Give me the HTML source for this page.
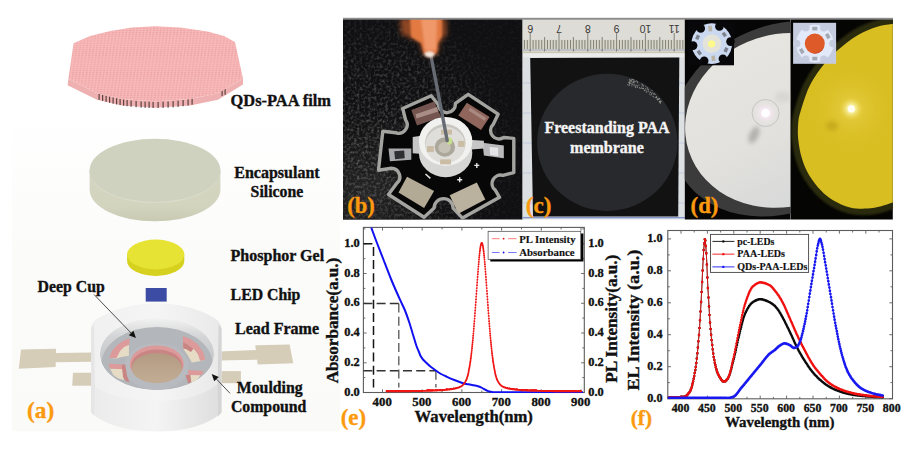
<!DOCTYPE html><html><head><meta charset="utf-8"><title>figure</title>
<style>html,body{margin:0;padding:0;background:#fff;}svg{display:block}text{font-family:"Liberation Serif",serif;font-weight:bold}</style></head><body>
<svg width="917" height="457" viewBox="0 0 917 457">
<defs>
<pattern id="hc" width="3.4" height="2.1" patternUnits="userSpaceOnUse" patternTransform="skewX(-8)"><rect width="3.4" height="2.1" fill="#f8b8b8"/><ellipse cx="1.7" cy="1.05" rx="1.0" ry="0.6" fill="#eaa2a4"/></pattern>
<linearGradient id="bodyside" x1="0" x2="1" y1="0" y2="0"><stop offset="0" stop-color="#ebebeb"/><stop offset="0.5" stop-color="#f4f4f4"/><stop offset="1" stop-color="#dedede"/></linearGradient>
<linearGradient id="wall" x1="0" x2="0" y1="0" y2="1"><stop offset="0" stop-color="#f2f2f2"/><stop offset="0.25" stop-color="#d4d5d6"/><stop offset="1" stop-color="#b4b6ba"/></linearGradient>
<linearGradient id="whitedisc" x1="0" x2="0.2" y1="0" y2="1"><stop offset="0" stop-color="#e7e6e1"/><stop offset="0.6" stop-color="#e2e1dd"/><stop offset="1" stop-color="#d8d9d9"/></linearGradient>
<radialGradient id="glowW" cx="0.5" cy="0.5" r="0.5"><stop offset="0" stop-color="#ffffff"/><stop offset="0.35" stop-color="#f6e8f2"/><stop offset="1" stop-color="#e4e2e0" stop-opacity="0"/></radialGradient>
<radialGradient id="glowY" cx="0.5" cy="0.5" r="0.5"><stop offset="0" stop-color="#ffffff"/><stop offset="0.3" stop-color="#f8f0a0"/><stop offset="1" stop-color="#e8c82a" stop-opacity="0"/></radialGradient>
<clipPath id="clipB"><rect x="343" y="18" width="179.6" height="201.4"/></clipPath><radialGradient id="bgB" gradientUnits="userSpaceOnUse" cx="365" cy="195" r="110"><stop offset="0" stop-color="#262626"/><stop offset="0.5" stop-color="#1a1a1a" stop-opacity="0.7"/><stop offset="1" stop-color="#101012" stop-opacity="0"/></radialGradient>
<clipPath id="clipC"><rect x="522.6" y="18" width="162.2" height="201.4"/></clipPath>
<clipPath id="clipDL"><rect x="684.8" y="18" width="105.7" height="201.4"/></clipPath>
<clipPath id="clipDR"><rect x="790.5" y="18" width="102.3" height="201.4"/></clipPath>
<clipPath id="clipIR"><rect x="793.1" y="22.8" width="43" height="41"/></clipPath><clipPath id="cup"><ellipse cx="157" cy="354" rx="57" ry="36"/></clipPath>
<clipPath id="clipE"><rect x="363.4" y="227.4" width="221" height="165.6"/></clipPath>
<clipPath id="clipF"><rect x="667.3" y="230.5" width="225" height="168.5"/></clipPath>
<filter id="blur1" x="-20%" y="-20%" width="140%" height="140%"><feGaussianBlur stdDeviation="1.3"/></filter><filter id="blur3" x="-30%" y="-30%" width="160%" height="160%"><feGaussianBlur stdDeviation="2.5"/></filter><filter id="blur2" x="-50%" y="-50%" width="200%" height="200%"><feGaussianBlur stdDeviation="2.2"/></filter>
<linearGradient id="bgA" x1="0" x2="0" y1="0" y2="1"><stop offset="0" stop-color="#ffffff"/><stop offset="0.45" stop-color="#fbfbfa"/><stop offset="1" stop-color="#fafaf9"/></linearGradient>
<linearGradient id="silside" x1="0" x2="0" y1="0" y2="1"><stop offset="0" stop-color="#d4d6c1"/><stop offset="0.7" stop-color="#d2d4be"/><stop offset="1" stop-color="#c8cab2"/></linearGradient>
<radialGradient id="ylight" cx="0.5" cy="0.5" r="0.5"><stop offset="0" stop-color="#e8d048" stop-opacity="0.9"/><stop offset="1" stop-color="#d9be22" stop-opacity="0"/></radialGradient>
<linearGradient id="brown" x1="0" x2="0" y1="0" y2="1"><stop offset="0" stop-color="#b39b82"/><stop offset="1" stop-color="#c2ad94"/></linearGradient>
<linearGradient id="topface" x1="0" x2="1" y1="0" y2="0"><stop offset="0" stop-color="#f0f0f0"/><stop offset="0.5" stop-color="#f5f5f5"/><stop offset="1" stop-color="#e9e9e9"/></linearGradient>
<filter id="noise" x="0" y="0" width="100%" height="100%"><feTurbulence type="fractalNoise" baseFrequency="0.35" numOctaves="2" seed="4"/><feColorMatrix type="matrix" values="0 0 0 0 0.2  0 0 0 0 0.2  0 0 0 0 0.2  2.2 0 0 0 -0.95"/></filter>
<radialGradient id="mB" gradientUnits="userSpaceOnUse" cx="370" cy="150" r="150"><stop offset="0" stop-color="#fff"/><stop offset="0.6" stop-color="#999"/><stop offset="1" stop-color="#222"/></radialGradient><mask id="maskB"><rect x="343" y="18" width="180" height="202" fill="url(#mB)"/></mask>
</defs>
<rect width="917" height="457" fill="#ffffff"/>
<rect x="12" y="110" width="328" height="321.3" fill="url(#bgA)"/>
<polygon points="68.4,78.7 97.0,93.2 122.0,99.0 155.0,101.5 190.0,99.0 218.0,93.2 243.0,78.7 243.0,84.5 218.0,99.7 190.0,105.5 155.0,107.8 122.0,105.5 97.0,99.7 67.6,85.3" fill="#eeb0b0"/>
<rect x="98.5" y="93.7" width="1.2" height="6.2" fill="#5e4242"/><rect x="102.0" y="94.7" width="1.2" height="6.2" fill="#5e4242"/><rect x="105.5" y="95.7" width="1.2" height="6.2" fill="#5e4242"/><rect x="109.0" y="96.6" width="1.2" height="6.2" fill="#5e4242"/><rect x="112.5" y="97.5" width="1.2" height="6.2" fill="#5e4242"/><rect x="116.0" y="98.2" width="1.2" height="6.2" fill="#5e4242"/><rect x="119.5" y="98.9" width="1.2" height="6.2" fill="#5e4242"/><rect x="123.0" y="99.5" width="1.2" height="6.2" fill="#5e4242"/><rect x="126.5" y="100.0" width="1.2" height="6.2" fill="#5e4242"/><rect x="130.5" y="100.5" width="1.2" height="6.2" fill="#5e4242"/><rect x="135.5" y="101.0" width="1.2" height="6.2" fill="#5e4242"/><rect x="140.5" y="101.4" width="1.2" height="6.2" fill="#5e4242"/><rect x="144.5" y="101.6" width="1.2" height="6.2" fill="#5e4242"/><rect x="148.5" y="101.7" width="1.2" height="6.2" fill="#5e4242"/><rect x="152.5" y="101.8" width="1.2" height="6.2" fill="#5e4242"/><rect x="157.5" y="101.8" width="1.2" height="6.2" fill="#5e4242"/><rect x="162.5" y="101.7" width="1.2" height="6.2" fill="#5e4242"/><rect x="167.5" y="101.5" width="1.2" height="6.2" fill="#5e4242"/><rect x="172.5" y="101.1" width="1.2" height="6.2" fill="#5e4242"/><rect x="177.5" y="100.7" width="1.2" height="6.2" fill="#5e4242"/><rect x="182.5" y="100.0" width="1.2" height="6.2" fill="#5e4242"/><rect x="187.5" y="99.3" width="1.2" height="6.2" fill="#5e4242"/><rect x="191.5" y="98.5" width="1.2" height="6.2" fill="#5e4242"/><rect x="221.5" y="89.7" width="1.2" height="6.2" fill="#5e4242"/><rect x="224.5" y="88.5" width="1.2" height="6.2" fill="#5e4242"/>
<polygon points="73.6,43.3 90.0,36.0 110.4,31.0 132.0,27.5 155.0,26.2 180.0,27.5 207.5,31.5 224.0,36.0 235.0,42.0 243.0,78.7 218.0,93.2 190.0,99.0 155.0,101.5 122.0,99.0 97.0,93.2 68.4,78.7" fill="url(#hc)"/>
<path d="M89.6,170.6 L89.6,189.6 A65.4,31.7 0 0 0 220.4,189.6 L220.4,170.6 Z" fill="url(#silside)"/>
<ellipse cx="155" cy="171.2" rx="65.4" ry="31.9" fill="#dbddcc"/>
<ellipse cx="155" cy="170.4" rx="65.4" ry="31.6" fill="#d0d2c0"/>
<path d="M127.1,254.5 L127.1,261 A28.6,15 0 0 0 184.3,261 L184.3,254.5 Z" fill="#d6d11e"/>
<ellipse cx="155.7" cy="254.5" rx="28.6" ry="15" fill="#e7e334"/>
<rect x="145.7" y="288" width="21" height="13.6" fill="#3c4ba3"/>
<polygon points="21,349.6 56,348.8 55.6,367.1 18.8,368.7" fill="#d6cdb9"/>
<polygon points="55,353 93,352.5 93,361.7 55,362.2" fill="#d6cdb9"/>
<polygon points="73,372.8 92,372.8 92,385.7 72.2,385.7" fill="#d6cdb9"/>
<polygon points="255.3,345.2 289.6,344.6 293.3,363.3 257.7,364.5" fill="#d6cdb9"/>
<polygon points="219,351.4 257,350 257,359.8 219,360.4" fill="#d6cdb9"/>
<rect x="219" y="371.1" width="21.9" height="12.1" fill="#d6cdb9"/>
<path d="M91,330 Q91,322 98.8,318 Q125,303.5 157,303.5 Q189,303.5 213.8,318 Q221.4,322 221.4,330 L221.4,413 Q200,431.4 157,431.4 Q113,431.4 91,413 Z" fill="url(#bodyside)"/>
<path d="M91,330 Q91,322 98.8,318 Q125,303.5 157,303.5 Q189,303.5 213.8,318 Q221.4,322 221.4,330 L221.4,381 Q200,401 157,401 Q113,401 91,384 Z" fill="url(#topface)"/>
<polygon points="218.6,324.5 221.5,328 221.5,412 218.2,416.5 217.6,386" fill="#d5d5d5"/>
<polygon points="94,324.5 91,328 91,412 94.2,416 95,386" fill="#e6e6e6"/>
<g clip-path="url(#cup)">
<ellipse cx="157" cy="354" rx="57" ry="36" fill="url(#wall)"/>
<ellipse cx="157" cy="364" rx="55.5" ry="37" fill="#b3b6ba"/>
<ellipse cx="156.4" cy="366.5" rx="32.3" ry="23.5" fill="#b7babf"/>
<polygon points="110.3,358.0 112.6,351.8 117.2,346.1 123.0,341.9 128.9,339.2 128.9,355.7 121.8,357.1 116.1,358.5" fill="#e6dcc6"/>
<polygon points="109.2,358.0 111.9,351.1 117.2,345.1 123.0,341.0 129.4,338.3 129.4,344.7 124.1,347.0 120.2,350.7 116.5,358.0" fill="#dc9a9a"/>
<polygon points="110.1,368.6 122.3,369.0 123.9,380.0 117.9,378.2 113.3,375.0" fill="#e6dcc6"/>
<polygon points="108.7,363.7 122.3,364.4 122.3,369.2 109.6,368.6" fill="#dc9a9a"/>
<polygon points="121.8,364.4 125.2,364.4 127.1,375.9 129.4,382.3 125.7,381.0 123.0,377.1" fill="#c98484"/>
<polygon points="183.1,336.9 190.0,339.6 197.5,345.1 202.8,353.0 205.1,359.4 199.2,361.2 191.8,362.6 188.1,355.7 183.1,348.4" fill="#e6dcc6"/>
<polygon points="182.6,336.0 190.0,338.7 197.8,344.2 203.3,352.5 205.6,359.4 200.1,360.8 197.8,353.9 193.6,348.8 188.1,344.7 183.1,342.4" fill="#dc9a9a"/>
<polygon points="183.1,341.9 188.1,344.7 193.6,348.8 190.9,352.0 186.3,349.3 183.1,348.4" fill="#c98484"/>
<polygon points="190.0,375.0 200.5,375.0 196.4,381.0 190.9,382.8" fill="#e6dcc6"/>
<polygon points="188.1,369.9 203.7,370.9 201.4,375.2 188.1,375.0" fill="#dc9a9a"/>
<polygon points="185.4,375.0 190.4,375.0 191.3,382.3 188.1,383.2" fill="#c98484"/>
<ellipse cx="156.8" cy="364" rx="27" ry="18.6" fill="#dc9a9a"/>
<ellipse cx="156.8" cy="366" rx="25.6" ry="16.6" fill="#c98484"/>
<ellipse cx="156.8" cy="368.2" rx="25.1" ry="15" fill="url(#brown)"/>
</g>
<line x1="94" y1="294.5" x2="131.1" y2="333.0" stroke="#222" stroke-width="0.8"/><polygon points="136,338 128.8,335.2 133.4,330.7" fill="#111"/>
<line x1="230" y1="393.3" x2="216.5" y2="379.1" stroke="#222" stroke-width="0.8"/><polygon points="211.7,374 218.8,376.9 214.2,381.3" fill="#111"/>
<text x="230.6" y="105.6" font-size="16.4" text-anchor="start" fill="#111"  stroke="#111" stroke-width="0.35">QDs-PAA film</text>
<text x="234.3" y="178.2" font-size="16" text-anchor="start" fill="#111"  stroke="#111" stroke-width="0.35">Encapsulant</text>
<text x="250.6" y="196.6" font-size="15.8" text-anchor="start" fill="#111"  stroke="#111" stroke-width="0.35">Silicone</text>
<text x="230.6" y="260.6" font-size="16" text-anchor="start" fill="#111"  stroke="#111" stroke-width="0.35">Phosphor Gel</text>
<text x="230.6" y="299.9" font-size="15.8" text-anchor="start" fill="#111"  stroke="#111" stroke-width="0.35">LED Chip</text>
<text x="235" y="334" font-size="16" text-anchor="start" fill="#111"  stroke="#111" stroke-width="0.35">Lead Frame</text>
<text x="236.8" y="392.5" font-size="15.8" text-anchor="start" fill="#111"  stroke="#111" stroke-width="0.35">Moulding</text>
<text x="230.9" y="411.6" font-size="15.8" text-anchor="start" fill="#111"  stroke="#111" stroke-width="0.35">Compound</text>
<text x="37.6" y="292" font-size="15.8" text-anchor="start" fill="#111"  stroke="#111" stroke-width="0.35">Deep Cup</text>
<text x="27" y="417.8" font-size="22.3" textLength="27.2" lengthAdjust="spacingAndGlyphs" fill="#fb9a0e" stroke="#fb9a0e" stroke-width="0.35">(a)</text><g clip-path="url(#clipB)">
<rect x="343" y="18" width="180" height="202" fill="#101012"/>
<rect x="343" y="18" width="180" height="202" fill="url(#bgB)"/>
<rect x="343" y="18" width="180" height="202" filter="url(#noise)" opacity="0.75" mask="url(#maskB)"/>
<path d="M402.7,108.5 L431.2,95.7 L438.3,104.8 A8.5,8.5 0 0 0 455.4,103.4 L468.2,94.3 L498.1,114.2 L493.3,124.2 A8.5,8.5 0 0 0 503.8,137.5 L513.8,138.4 L513.8,172.6 L503.0,175.4 A8.5,8.5 0 0 0 495.3,190.2 L499.5,197.3 L462.5,218.1 L453.1,208.1 A9.4,9.4 0 0 0 434.1,208.1 L424.1,217.3 L388.5,194.5 L397.0,183.1 A8.5,8.5 0 0 0 391.4,168.3 L378.5,170.3 L382.8,131.3 L395.6,132.7 A8.5,8.5 0 0 0 405.6,119.9 Z" fill="#070708" stroke="#a3a3a0" stroke-width="3.4" stroke-linejoin="round"/>
<polygon points="411.3,109.9 434.1,101.4 441.2,117.0 417.0,125.6" fill="#74544f" />
<polygon points="415.6,114.2 436.9,107.1 438.3,111.4 416.4,118.5" fill="#a88c86" />
<polygon points="466.8,102.8 489.6,117.0 481.0,129.9 458.3,115.6" fill="#90665c" />
<polygon points="470.2,107.7 486.2,117.9 484.4,120.7 468.5,110.5" fill="#a98a82" />
<polygon points="482.5,142.7 503.8,145.5 503.8,158.3 483.9,155.5" fill="#b9b9bb" />
<polygon points="388.5,148.4 411.3,148.4 411.3,159.8 389.9,161.2" fill="#a9aaac" />
<polygon points="394.2,151.2 404.2,150.4 404.7,158.3 395.1,159.2" fill="#303034" />
<polygon points="489.6,146.9 498.1,147.8 498.1,156.0 490.1,154.9" fill="#e4e4e6" />
<polygon points="407.0,176.8 434.1,191.1 424.1,208.1 398.5,192.5" fill="#b3aa96" />
<polygon points="449.7,195.3 476.8,182.5 485.3,199.6 458.3,213.8" fill="#bab19e" />
<polygon points="412.7,137.0 422.7,135.6 422.7,154.1 412.7,153.2" fill="#c6c6c6" />
<polygon points="468.2,139.8 483.9,140.7 483.9,148.4 468.2,149.8" fill="#c6c6c6" />
<ellipse cx="445.6" cy="152.8" rx="26.7" ry="24.4" fill="#d6d6d4"/>
<ellipse cx="445.6" cy="141.3" rx="26.7" ry="24.4" fill="#f1f1ef"/>
<ellipse cx="445.3" cy="143.3" rx="20.3" ry="19.3" fill="#c9c7c1"/>
<ellipse cx="445.3" cy="144.9" rx="19.8" ry="18" fill="#e0deda"/>
<ellipse cx="444.9" cy="147" rx="10.2" ry="9.7" fill="#aba79b"/>
<ellipse cx="444.6" cy="147.6" rx="6.2" ry="5.6" fill="#c6c2b6"/>
<rect x="441.0" y="129.6" width="11" height="5" fill="#cbbca5"/>
<rect x="426.9" y="146.1" width="7" height="6" fill="#cbbca5"/>
<rect x="458.1" y="140.9" width="6.5" height="6" fill="#cbbca5"/>
<rect x="440.1" y="159.4" width="11" height="5" fill="#cbbca5"/>
<ellipse cx="449.6" cy="141" rx="2.7" ry="3.8" fill="#c6de90"/>
<path d="M474.3,165.4h5M476.8,162.9v5" stroke="#e8e8e8" stroke-width="1.4"/>
<path d="M457.2,179.7h5M459.7,177.2v5" stroke="#e8e8e8" stroke-width="1.4"/>
<line x1="425.5" y1="174.0" x2="430.4" y2="178.3" stroke="#e0e0e0" stroke-width="1.6"/>
<line x1="430.8" y1="55" x2="447.2" y2="140.5" stroke="#676b74" stroke-width="3.4" stroke-linecap="round"/>
<g filter="url(#blur3)">
<path d="M400,18 L446,18 L447,34 L440,42 L438,53 Q431,59 423,54 L420,42 L401,34 Z" fill="#b5572a" opacity="0.75"/>
</g><g filter="url(#blur1)">
<path d="M410,18 L442,18 L442,36 L438,43 L437,53 Q431,58 424,54 L421,43 L411,37 Z" fill="#e27a42"/>
<path d="M421,19 L437,19 L436,50 L425,50 Z" fill="#f0986a"/>
<ellipse cx="429.5" cy="54.5" rx="5" ry="3" fill="#f4e6da"/>
</g>
</g>
<g clip-path="url(#clipC)">
<rect x="522" y="18" width="164" height="202" fill="#dde0e3"/>
<rect x="522" y="217" width="164" height="1.3" fill="#8296cc"/>
<line x1="523" y1="83" x2="685" y2="83" stroke="#b9c6e0" stroke-width="0.8"/>
<line x1="523" y1="113" x2="685" y2="113" stroke="#b9c6e0" stroke-width="0.8"/>
<line x1="523" y1="143" x2="685" y2="143" stroke="#b9c6e0" stroke-width="0.8"/>
<line x1="523" y1="173" x2="685" y2="173" stroke="#b9c6e0" stroke-width="0.8"/>
<line x1="523" y1="203" x2="685" y2="203" stroke="#b9c6e0" stroke-width="0.8"/>
<rect x="523" y="18" width="162" height="35" fill="#d8d6ca"/>
<rect x="523" y="18" width="162" height="21.5" fill="#dddcd7"/>
<rect x="523" y="49.6" width="162" height="0.8" fill="#9aa6c0"/>
<rect x="523" y="52.3" width="162" height="1" fill="#c9c3a4"/>
<rect x="523" y="53.3" width="162" height="4" fill="#ececec"/>
<line x1="524.44" y1="40" x2="524.44" y2="49" stroke="#5d5b56" stroke-width="0.7"/>
<line x1="527.32" y1="40" x2="527.32" y2="49" stroke="#5d5b56" stroke-width="0.7"/>
<line x1="530.20" y1="33" x2="530.20" y2="51.5" stroke="#5d5b56" stroke-width="0.7"/>
<line x1="533.08" y1="40" x2="533.08" y2="49" stroke="#5d5b56" stroke-width="0.7"/>
<line x1="535.96" y1="40" x2="535.96" y2="49" stroke="#5d5b56" stroke-width="0.7"/>
<line x1="538.84" y1="40" x2="538.84" y2="49" stroke="#5d5b56" stroke-width="0.7"/>
<line x1="541.72" y1="40" x2="541.72" y2="49" stroke="#5d5b56" stroke-width="0.7"/>
<line x1="544.60" y1="37" x2="544.60" y2="51.5" stroke="#5d5b56" stroke-width="0.7"/>
<line x1="547.48" y1="40" x2="547.48" y2="49" stroke="#5d5b56" stroke-width="0.7"/>
<line x1="550.36" y1="40" x2="550.36" y2="49" stroke="#5d5b56" stroke-width="0.7"/>
<line x1="553.24" y1="40" x2="553.24" y2="49" stroke="#5d5b56" stroke-width="0.7"/>
<line x1="556.12" y1="40" x2="556.12" y2="49" stroke="#5d5b56" stroke-width="0.7"/>
<line x1="559.00" y1="33" x2="559.00" y2="51.5" stroke="#5d5b56" stroke-width="0.7"/>
<line x1="561.88" y1="40" x2="561.88" y2="49" stroke="#5d5b56" stroke-width="0.7"/>
<line x1="564.76" y1="40" x2="564.76" y2="49" stroke="#5d5b56" stroke-width="0.7"/>
<line x1="567.64" y1="40" x2="567.64" y2="49" stroke="#5d5b56" stroke-width="0.7"/>
<line x1="570.52" y1="40" x2="570.52" y2="49" stroke="#5d5b56" stroke-width="0.7"/>
<line x1="573.40" y1="37" x2="573.40" y2="51.5" stroke="#5d5b56" stroke-width="0.7"/>
<line x1="576.28" y1="40" x2="576.28" y2="49" stroke="#5d5b56" stroke-width="0.7"/>
<line x1="579.16" y1="40" x2="579.16" y2="49" stroke="#5d5b56" stroke-width="0.7"/>
<line x1="582.04" y1="40" x2="582.04" y2="49" stroke="#5d5b56" stroke-width="0.7"/>
<line x1="584.92" y1="40" x2="584.92" y2="49" stroke="#5d5b56" stroke-width="0.7"/>
<line x1="587.80" y1="33" x2="587.80" y2="51.5" stroke="#5d5b56" stroke-width="0.7"/>
<line x1="590.68" y1="40" x2="590.68" y2="49" stroke="#5d5b56" stroke-width="0.7"/>
<line x1="593.56" y1="40" x2="593.56" y2="49" stroke="#5d5b56" stroke-width="0.7"/>
<line x1="596.44" y1="40" x2="596.44" y2="49" stroke="#5d5b56" stroke-width="0.7"/>
<line x1="599.32" y1="40" x2="599.32" y2="49" stroke="#5d5b56" stroke-width="0.7"/>
<line x1="602.20" y1="37" x2="602.20" y2="51.5" stroke="#5d5b56" stroke-width="0.7"/>
<line x1="605.08" y1="40" x2="605.08" y2="49" stroke="#5d5b56" stroke-width="0.7"/>
<line x1="607.96" y1="40" x2="607.96" y2="49" stroke="#5d5b56" stroke-width="0.7"/>
<line x1="610.84" y1="40" x2="610.84" y2="49" stroke="#5d5b56" stroke-width="0.7"/>
<line x1="613.72" y1="40" x2="613.72" y2="49" stroke="#5d5b56" stroke-width="0.7"/>
<line x1="616.60" y1="33" x2="616.60" y2="51.5" stroke="#5d5b56" stroke-width="0.7"/>
<line x1="619.48" y1="40" x2="619.48" y2="49" stroke="#5d5b56" stroke-width="0.7"/>
<line x1="622.36" y1="40" x2="622.36" y2="49" stroke="#5d5b56" stroke-width="0.7"/>
<line x1="625.24" y1="40" x2="625.24" y2="49" stroke="#5d5b56" stroke-width="0.7"/>
<line x1="628.12" y1="40" x2="628.12" y2="49" stroke="#5d5b56" stroke-width="0.7"/>
<line x1="631.00" y1="37" x2="631.00" y2="51.5" stroke="#5d5b56" stroke-width="0.7"/>
<line x1="633.88" y1="40" x2="633.88" y2="49" stroke="#5d5b56" stroke-width="0.7"/>
<line x1="636.76" y1="40" x2="636.76" y2="49" stroke="#5d5b56" stroke-width="0.7"/>
<line x1="639.64" y1="40" x2="639.64" y2="49" stroke="#5d5b56" stroke-width="0.7"/>
<line x1="642.52" y1="40" x2="642.52" y2="49" stroke="#5d5b56" stroke-width="0.7"/>
<line x1="645.40" y1="33" x2="645.40" y2="51.5" stroke="#5d5b56" stroke-width="0.7"/>
<line x1="648.28" y1="40" x2="648.28" y2="49" stroke="#5d5b56" stroke-width="0.7"/>
<line x1="651.16" y1="40" x2="651.16" y2="49" stroke="#5d5b56" stroke-width="0.7"/>
<line x1="654.04" y1="40" x2="654.04" y2="49" stroke="#5d5b56" stroke-width="0.7"/>
<line x1="656.92" y1="40" x2="656.92" y2="49" stroke="#5d5b56" stroke-width="0.7"/>
<line x1="659.80" y1="37" x2="659.80" y2="51.5" stroke="#5d5b56" stroke-width="0.7"/>
<line x1="662.68" y1="40" x2="662.68" y2="49" stroke="#5d5b56" stroke-width="0.7"/>
<line x1="665.56" y1="40" x2="665.56" y2="49" stroke="#5d5b56" stroke-width="0.7"/>
<line x1="668.44" y1="40" x2="668.44" y2="49" stroke="#5d5b56" stroke-width="0.7"/>
<line x1="671.32" y1="40" x2="671.32" y2="49" stroke="#5d5b56" stroke-width="0.7"/>
<line x1="674.20" y1="33" x2="674.20" y2="51.5" stroke="#5d5b56" stroke-width="0.7"/>
<line x1="677.08" y1="40" x2="677.08" y2="49" stroke="#5d5b56" stroke-width="0.7"/>
<line x1="679.96" y1="40" x2="679.96" y2="49" stroke="#5d5b56" stroke-width="0.7"/>
<line x1="682.84" y1="40" x2="682.84" y2="49" stroke="#5d5b56" stroke-width="0.7"/>
<text x="530.2" y="28.4" font-size="10.5" text-anchor="middle" fill="#3a3936" style="font-family:'Liberation Sans',sans-serif;font-weight:normal" transform="rotate(180 530.2 28.4)" dy="3.8" stroke="#3a3936" stroke-width="0">6</text>
<text x="559.0" y="28.4" font-size="10.5" text-anchor="middle" fill="#3a3936" style="font-family:'Liberation Sans',sans-serif;font-weight:normal" transform="rotate(180 559.0 28.4)" dy="3.8" stroke="#3a3936" stroke-width="0">7</text>
<text x="587.8" y="28.4" font-size="10.5" text-anchor="middle" fill="#3a3936" style="font-family:'Liberation Sans',sans-serif;font-weight:normal" transform="rotate(180 587.8 28.4)" dy="3.8" stroke="#3a3936" stroke-width="0">8</text>
<text x="616.6" y="28.4" font-size="10.5" text-anchor="middle" fill="#3a3936" style="font-family:'Liberation Sans',sans-serif;font-weight:normal" transform="rotate(180 616.6 28.4)" dy="3.8" stroke="#3a3936" stroke-width="0">9</text>
<text x="645.4" y="28.4" font-size="10.5" text-anchor="middle" fill="#3a3936" style="font-family:'Liberation Sans',sans-serif;font-weight:normal" transform="rotate(180 645.4 28.4)" dy="3.8" stroke="#3a3936" stroke-width="0">10</text>
<text x="674.2" y="28.4" font-size="10.5" text-anchor="middle" fill="#3a3936" style="font-family:'Liberation Sans',sans-serif;font-weight:normal" transform="rotate(180 674.2 28.4)" dy="3.8" stroke="#3a3936" stroke-width="0">11</text>
<polygon points="530.2,58 679.3,57.5 678.2,216.6 533,216.6" fill="#121213"/>
<ellipse cx="607.3" cy="142.3" rx="70.2" ry="68.6" fill="#28292c"/>
<path d="M641.5,87.0h0M659.0,99.4h0M643.4,88.2h0M632.8,83.0h0M647.2,91.7h0M630.9,80.8h0M629.5,84.3h0M652.0,90.5h0M659.8,102.5h0M648.7,91.6h0M633.4,79.5h0M645.8,86.2h0M633.7,81.3h0M629.2,81.5h0M640.2,88.2h0M643.6,88.7h0M642.9,88.4h0M642.5,85.7h0M660.3,103.2h0M655.3,97.2h0M637.7,82.9h0M637.3,81.6h0M653.5,93.9h0M656.5,96.5h0M659.2,101.4h0M629.4,79.6h0M658.5,98.9h0M661.2,101.4h0M629.6,82.9h0M654.4,93.9h0M630.7,80.9h0M659.7,101.5h0M631.7,80.6h0M631.7,79.2h0M655.3,94.2h0M645.7,88.6h0M632.3,84.5h0M630.9,83.4h0M631.2,81.8h0M634.3,81.8h0M659.8,101.8h0M635.4,86.6h0M633.9,82.5h0M656.0,97.4h0M629.3,85.5h0M634.3,81.7h0M654.0,93.9h0M637.5,81.7h0M630.1,82.7h0M634.3,84.2h0M639.0,85.1h0M660.2,100.7h0M644.9,90.8h0M633.7,80.7h0M657.5,99.7h0M635.7,81.7h0M650.9,94.9h0M631.9,85.9h0M657.2,98.3h0M641.8,84.1h0M628.0,85.1h0M633.8,84.8h0M634.1,85.7h0M647.6,88.9h0M631.9,84.3h0M630.5,80.1h0M644.4,90.4h0M648.3,89.2h0M659.5,98.6h0M629.4,80.1h0M642.8,84.3h0M632.9,82.0h0M647.2,87.6h0M637.3,87.4h0M660.5,101.9h0M650.2,92.4h0M632.8,79.4h0M627.8,84.6h0M649.4,94.0h0M628.6,82.7h0M642.0,88.4h0M635.5,87.4h0M629.8,82.3h0M650.9,94.7h0M651.5,94.1h0M653.0,96.3h0M637.6,86.1h0M657.1,99.5h0M639.5,87.6h0M656.6,97.5h0M648.4,89.9h0M646.1,89.9h0M629.7,83.0h0M660.4,102.8h0M652.2,92.8h0M651.8,93.6h0M640.2,88.2h0M629.5,83.8h0M628.8,82.5h0M643.5,85.9h0M650.7,92.3h0M646.3,91.9h0M636.4,80.7h0M635.9,85.3h0M634.3,81.0h0M657.9,99.2h0M640.1,88.5h0M636.8,85.6h0M633.4,82.6h0M653.5,96.7h0" stroke="#a0a09a" stroke-width="1.1" stroke-linecap="round" opacity="0.8"/>
</g>
<text x="607" y="133" font-size="16" text-anchor="middle" fill="#f4f4f4" stroke="#f4f4f4" stroke-width="0.35">Freestanding PAA</text>
<text x="607" y="152.6" font-size="16" text-anchor="middle" fill="#f4f4f4" stroke="#f4f4f4" stroke-width="0.35">membrane</text>
<g clip-path="url(#clipDL)">
<rect x="684" y="18" width="107" height="202" fill="#060606"/>
<ellipse cx="781.2" cy="118.9" rx="114.5" ry="92.7" fill="#3b3b3b" transform="rotate(-27.4 781.2 118.9)"/>
<ellipse cx="783.3" cy="120.4" rx="99.4" ry="86.1" fill="url(#whitedisc)" transform="rotate(-18 783.3 120.4)"/>
<g filter="url(#blur2)"><ellipse cx="754" cy="135" rx="4.5" ry="9" fill="#b4b2b0" transform="rotate(25 754 135)"/><ellipse cx="783" cy="97" rx="8" ry="6" fill="#d9d7d3"/></g>
<circle cx="765.6" cy="113" r="13" fill="url(#glowW)"/>
<circle cx="765.6" cy="113" r="13.5" fill="none" stroke="#aaa6a8" stroke-width="0.5"/>
<circle cx="765.6" cy="113" r="4.3" fill="#ffffff"/>
<rect x="687.8" y="21.4" width="46.2" height="43.9" fill="#08080a"/>
<circle cx="711.8" cy="43.6" r="20.3" fill="#cad8f0"/><circle cx="719.4" cy="26.4" r="4.3" fill="#08080a"/><circle cx="730.5" cy="41.6" r="4.3" fill="#08080a"/><circle cx="722.9" cy="58.8" r="4.3" fill="#08080a"/><circle cx="704.2" cy="60.8" r="4.3" fill="#08080a"/><circle cx="693.1" cy="45.6" r="4.3" fill="#08080a"/><circle cx="700.7" cy="28.4" r="4.3" fill="#08080a"/>
<rect x="722.0" y="32.8" width="4.6" height="3.4" fill="#7d838e" transform="rotate(54 724.3 34.5)"/>
<rect x="723.7" y="48.2" width="4.6" height="3.4" fill="#7d838e" transform="rotate(114 726.0 49.9)"/>
<rect x="697.0" y="51.0" width="4.6" height="3.4" fill="#7d838e" transform="rotate(234 699.3 52.7)"/>
<rect x="695.3" y="35.6" width="4.6" height="3.4" fill="#7d838e" transform="rotate(294 697.6 37.3)"/>
<rect x="708.4" y="25.9" width="3.6" height="5.5" fill="#b9b4a4" transform="rotate(-6 710.2 28.7)"/>
<rect x="711.6" y="55.8" width="3.6" height="5.5" fill="#b9b4a4" transform="rotate(174 713.4 58.5)"/>
<circle cx="711.8" cy="43.6" r="9.3" fill="#e3e3da"/>
<circle cx="711.6" cy="43.8" r="3.6" fill="#fdf98a"/>
</g>
<g clip-path="url(#clipDR)">
<rect x="790.5" y="18" width="103" height="202" fill="#050504"/>
<path d="M905.0,22.5 C902.8,22.8 896.8,23.4 892.0,24.1 C887.2,24.9 882.2,25.1 876.4,27.0 C870.6,28.9 863.8,31.4 857.2,35.4 C850.6,39.4 842.7,45.6 836.7,51.0 C830.7,56.4 825.6,62.0 821.0,68.0 C816.4,74.0 812.4,80.0 809.0,87.2 C805.6,94.4 802.4,105.2 800.6,111.2 C798.8,117.2 798.6,118.7 798.2,123.3 C797.8,127.9 797.6,133.1 798.2,138.9 C798.8,144.7 800.0,152.1 801.8,158.1 C803.6,164.1 805.8,169.6 809.0,175.0 C812.2,180.4 817.0,186.4 821.0,190.6 C825.0,194.8 828.2,197.4 833.0,200.2 C837.8,203.0 844.4,206.0 850.0,207.4 C855.6,208.8 861.6,208.8 866.8,208.6 C872.0,208.4 876.9,207.2 881.2,206.2 C885.5,205.2 888.5,204.0 892.5,202.6 C896.5,201.2 902.9,198.8 905.0,198.0 Z" fill="#2c290d" stroke="#2c290d" stroke-width="13" stroke-linejoin="round" filter="url(#blur1)"/>
<path d="M905.0,22.5 C902.8,22.8 896.8,23.4 892.0,24.1 C887.2,24.9 882.2,25.1 876.4,27.0 C870.6,28.9 863.8,31.4 857.2,35.4 C850.6,39.4 842.7,45.6 836.7,51.0 C830.7,56.4 825.6,62.0 821.0,68.0 C816.4,74.0 812.4,80.0 809.0,87.2 C805.6,94.4 802.4,105.2 800.6,111.2 C798.8,117.2 798.6,118.7 798.2,123.3 C797.8,127.9 797.6,133.1 798.2,138.9 C798.8,144.7 800.0,152.1 801.8,158.1 C803.6,164.1 805.8,169.6 809.0,175.0 C812.2,180.4 817.0,186.4 821.0,190.6 C825.0,194.8 828.2,197.4 833.0,200.2 C837.8,203.0 844.4,206.0 850.0,207.4 C855.6,208.8 861.6,208.8 866.8,208.6 C872.0,208.4 876.9,207.2 881.2,206.2 C885.5,205.2 888.5,204.0 892.5,202.6 C896.5,201.2 902.9,198.8 905.0,198.0 Z" fill="#d9be22"/>
<circle cx="851.3" cy="108.8" r="45" fill="url(#ylight)"/>
<g filter="url(#blur2)"><ellipse cx="832" cy="126" rx="6" ry="5" fill="#c9ab1c"/></g>
<circle cx="851.3" cy="108.8" r="13" fill="url(#glowY)"/>
<circle cx="851.3" cy="108.8" r="3.6" fill="#fffef0"/>
<rect x="793.1" y="22.8" width="43" height="41" fill="#c6cce0"/>
<g clip-path="url(#clipIR)">
<circle cx="814.8" cy="43.6" r="18.8" fill="#e2e9f9"/><circle cx="833.0" cy="43.6" r="3.8" fill="#c6cce0"/><circle cx="823.9" cy="59.4" r="3.8" fill="#c6cce0"/><circle cx="805.7" cy="59.4" r="3.8" fill="#c6cce0"/><circle cx="796.6" cy="43.6" r="3.8" fill="#c6cce0"/><circle cx="805.7" cy="27.8" r="3.8" fill="#c6cce0"/><circle cx="823.9" cy="27.8" r="3.8" fill="#c6cce0"/>
</g>
<rect x="812.3" y="26.8" width="5" height="3.6" fill="#a3a8b2" transform="rotate(0 814.8 28.6)"/>
<rect x="825.3" y="34.3" width="5" height="3.6" fill="#a3a8b2" transform="rotate(60 827.8 36.1)"/>
<rect x="812.3" y="56.8" width="5" height="3.6" fill="#a3a8b2" transform="rotate(180 814.8 58.6)"/>
<rect x="799.3" y="49.3" width="5" height="3.6" fill="#a3a8b2" transform="rotate(240 801.8 51.1)"/>
<circle cx="814.8" cy="43.6" r="10" fill="#de5b29"/>
<path d="M824.5,46 A10,10 0 0 1 812,53.2 A14,14 0 0 0 824.5,46Z" fill="#cc4828"/>
</g>
<rect x="343" y="17.8" width="550" height="1.9" fill="#8c8c8c"/>
<text x="347.2" y="213.4" font-size="22.3" textLength="27.6" lengthAdjust="spacingAndGlyphs" fill="#fb9a0e" stroke="#fb9a0e" stroke-width="0.35">(b)</text>
<text x="525.8" y="213.4" font-size="22.3" textLength="25.6" lengthAdjust="spacingAndGlyphs" fill="#fb9a0e" stroke="#fb9a0e" stroke-width="0.35">(c)</text>
<text x="690.6" y="213.4" font-size="22.3" textLength="27.8" lengthAdjust="spacingAndGlyphs" fill="#fb9a0e" stroke="#fb9a0e" stroke-width="0.35">(d)</text><rect x="363.4" y="227.4" width="220.9" height="165.1" fill="#fff" stroke="#5c5c5c" stroke-width="1.1"/>
<path d="M382.5,392.5v-3.2M382.5,227.4v3.2M402.4,392.5v-2M402.4,227.4v2M422.2,392.5v-3.2M422.2,227.4v3.2M442.1,392.5v-2M442.1,227.4v2M461.9,392.5v-3.2M461.9,227.4v3.2M481.8,392.5v-2M481.8,227.4v2M501.6,392.5v-3.2M501.6,227.4v3.2M521.5,392.5v-2M521.5,227.4v2M541.3,392.5v-3.2M541.3,227.4v3.2M561.1,392.5v-2M561.1,227.4v2M581.0,392.5v-3.2M581.0,227.4v3.2M363.4,392.5h3.2M584.3,392.5h-3.2M363.4,377.6h2M584.3,377.6h-2M363.4,362.8h3.2M584.3,362.8h-3.2M363.4,347.9h2M584.3,347.9h-2M363.4,333.0h3.2M584.3,333.0h-3.2M363.4,318.1h2M584.3,318.1h-2M363.4,303.3h3.2M584.3,303.3h-3.2M363.4,288.4h2M584.3,288.4h-2M363.4,273.5h3.2M584.3,273.5h-3.2M363.4,258.7h2M584.3,258.7h-2M363.4,243.8h3.2M584.3,243.8h-3.2M363.4,228.9h2M584.3,228.9h-2" stroke="#5c5c5c" stroke-width="0.9" fill="none"/>
<path d="M363.4,243.8H373.5V387.4" stroke="#151515" stroke-width="1.5" fill="none" stroke-dasharray="9 4.2"/>
<path d="M363.4,303.5H398.8M363.4,370.7H435.9" stroke="#333" stroke-width="1.4" fill="none" stroke-dasharray="9 4.2"/>
<path d="M398.8,303.5V387.4M435.9,370.7V387.4" stroke="#555" stroke-width="1.3" fill="none" stroke-dasharray="9 4.2"/>
<g clip-path="url(#clipE)">
<path d="M371.2,227.4 C372.2,230.0 374.9,237.6 377.0,243.0 C379.1,248.4 381.3,254.0 383.6,260.0 C385.9,266.0 388.3,272.4 391.0,279.0 C393.7,285.6 397.7,294.6 400.0,299.7 C402.3,304.8 403.1,305.9 404.6,309.5 C406.1,313.1 407.4,316.9 408.8,321.0 C410.2,325.1 411.6,329.9 412.8,334.0 C414.1,338.1 415.3,342.6 416.3,345.5 C417.3,348.4 418.1,349.8 418.8,351.5 C419.5,353.2 419.9,354.7 420.6,356.0 C421.3,357.3 422.1,358.4 423.0,359.5 C423.9,360.6 424.7,361.2 426.0,362.5 C427.3,363.8 429.2,365.6 431.0,367.0 C432.8,368.4 434.8,369.8 436.5,371.0 C438.2,372.2 439.2,373.0 441.0,374.0 C442.8,375.0 444.7,375.8 447.0,376.8 C449.3,377.9 452.3,379.2 455.0,380.3 C457.7,381.4 460.8,382.5 463.0,383.2 C465.2,383.9 466.5,383.9 468.3,384.3 C470.1,384.7 472.0,385.0 473.6,385.3 C475.2,385.6 476.8,385.9 478.0,386.2 C479.2,386.5 480.0,386.8 481.0,387.3 C482.0,387.8 482.9,388.4 484.0,389.0 C485.1,389.6 486.3,390.3 487.5,390.8 C488.7,391.3 489.6,391.6 491.0,391.8 C492.4,392.0 491.2,392.1 496.0,392.2 C500.8,392.3 505.5,392.2 520.0,392.2 C534.5,392.2 572.5,392.2 583.0,392.2" stroke="#1010f0" stroke-width="2" fill="none" stroke-linejoin="round"/>
<path d="M386.5,391.3 L386.7,391.3 L386.9,391.3 L387.1,391.3 L387.3,391.3 L387.5,391.3 L387.7,391.3 L387.9,391.3 L388.1,391.3 L388.3,391.3 L388.5,391.3 L388.7,391.3 L388.9,391.3 L389.1,391.3 L389.2,391.3 L389.4,391.3 L389.6,391.3 L389.8,391.3 L390.0,391.3 L390.2,391.3 L390.4,391.3 L390.6,391.3 L390.8,391.3 L391.0,391.3 L391.2,391.3 L391.4,391.3 L391.6,391.3 L391.8,391.3 L392.0,391.3 L392.2,391.3 L392.4,391.3 L392.6,391.3 L392.8,391.3 L393.0,391.3 L393.2,391.3 L393.4,391.3 L393.6,391.3 L393.8,391.3 L394.0,391.3 L394.2,391.3 L394.4,391.3 L394.6,391.3 L394.8,391.3 L395.0,391.3 L395.2,391.3 L395.4,391.3 L395.6,391.3 L395.8,391.3 L396.0,391.3 L396.2,391.3 L396.4,391.3 L396.6,391.3 L396.8,391.3 L397.0,391.3 L397.2,391.3 L397.4,391.3 L397.6,391.3 L397.8,391.3 L398.0,391.3 L398.2,391.3 L398.4,391.3 L398.6,391.3 L398.8,391.3 L399.0,391.3 L399.2,391.3 L399.4,391.3 L399.6,391.3 L399.8,391.3 L400.0,391.3 L400.2,391.3 L400.4,391.3 L400.6,391.3 L400.8,391.3 L401.0,391.2 L401.2,391.2 L401.4,391.2 L401.6,391.2 L401.8,391.2 L402.0,391.2 L402.2,391.2 L402.4,391.2 L402.5,391.2 L402.7,391.2 L402.9,391.2 L403.1,391.2 L403.3,391.2 L403.5,391.2 L403.7,391.2 L403.9,391.2 L404.1,391.2 L404.3,391.2 L404.5,391.2 L404.7,391.2 L404.9,391.2 L405.1,391.2 L405.3,391.2 L405.5,391.2 L405.7,391.2 L405.9,391.2 L406.1,391.2 L406.3,391.2 L406.5,391.2 L406.7,391.2 L406.9,391.2 L407.1,391.2 L407.3,391.2 L407.5,391.2 L407.7,391.2 L407.9,391.2 L408.1,391.2 L408.3,391.2 L408.5,391.2 L408.7,391.2 L408.9,391.2 L409.1,391.2 L409.3,391.2 L409.5,391.2 L409.7,391.2 L409.9,391.2 L410.1,391.2 L410.3,391.1 L410.5,391.1 L410.7,391.1 L410.9,391.1 L411.1,391.1 L411.3,391.1 L411.5,391.1 L411.7,391.1 L411.9,391.1 L412.1,391.1 L412.3,391.1 L412.5,391.1 L412.7,391.1 L412.9,391.1 L413.1,391.1 L413.3,391.1 L413.5,391.1 L413.7,391.1 L413.9,391.1 L414.1,391.1 L414.3,391.1 L414.5,391.1 L414.7,391.1 L414.9,391.1 L415.1,391.1 L415.3,391.1 L415.5,391.1 L415.6,391.1 L415.8,391.1 L416.0,391.1 L416.2,391.1 L416.4,391.1 L416.6,391.1 L416.8,391.1 L417.0,391.1 L417.2,391.0 L417.4,391.0 L417.6,391.0 L417.8,391.0 L418.0,391.0 L418.2,391.0 L418.4,391.0 L418.6,391.0 L418.8,391.0 L419.0,391.0 L419.2,391.0 L419.4,391.0 L419.6,391.0 L419.8,391.0 L420.0,391.0 L420.2,391.0 L420.4,391.0 L420.6,391.0 L420.8,391.0 L421.0,391.0 L421.2,391.0 L421.4,391.0 L421.6,391.0 L421.8,391.0 L422.0,391.0 L422.2,391.0 L422.4,390.9 L422.6,390.9 L422.8,390.9 L423.0,390.9 L423.2,390.9 L423.4,390.9 L423.6,390.9 L423.8,390.9 L424.0,390.9 L424.2,390.9 L424.4,390.9 L424.6,390.9 L424.8,390.9 L425.0,390.9 L425.2,390.9 L425.4,390.9 L425.6,390.9 L425.8,390.9 L426.0,390.9 L426.2,390.9 L426.4,390.8 L426.6,390.8 L426.8,390.8 L427.0,390.8 L427.2,390.8 L427.4,390.8 L427.6,390.8 L427.8,390.8 L428.0,390.8 L428.2,390.8 L428.4,390.8 L428.6,390.8 L428.8,390.8 L428.9,390.8 L429.1,390.8 L429.3,390.8 L429.5,390.8 L429.7,390.7 L429.9,390.7 L430.1,390.7 L430.3,390.7 L430.5,390.7 L430.7,390.7 L430.9,390.7 L431.1,390.7 L431.3,390.7 L431.5,390.7 L431.7,390.7 L431.9,390.7 L432.1,390.7 L432.3,390.7 L432.5,390.7 L432.7,390.6 L432.9,390.6 L433.1,390.6 L433.3,390.6 L433.5,390.6 L433.7,390.6 L433.9,390.6 L434.1,390.6 L434.3,390.6 L434.5,390.6 L434.7,390.6 L434.9,390.6 L435.1,390.5 L435.3,390.5 L435.5,390.5 L435.7,390.5 L435.9,390.5 L436.1,390.5 L436.3,390.5 L436.5,390.5 L436.7,390.5 L436.9,390.5 L437.1,390.5 L437.3,390.4 L437.5,390.4 L437.7,390.4 L437.9,390.4 L438.1,390.4 L438.3,390.4 L438.5,390.4 L438.7,390.4 L438.9,390.4 L439.1,390.3 L439.3,390.3 L439.5,390.3 L439.7,390.3 L439.9,390.3 L440.1,390.3 L440.3,390.3 L440.5,390.3 L440.7,390.2 L440.9,390.2 L441.1,390.2 L441.3,390.2 L441.5,390.2 L441.7,390.2 L441.9,390.2 L442.1,390.2 L442.2,390.1 L442.4,390.1 L442.6,390.1 L442.8,390.1 L443.0,390.1 L443.2,390.1 L443.4,390.1 L443.6,390.0 L443.8,390.0 L444.0,390.0 L444.2,390.0 L444.4,390.0 L444.6,390.0 L444.8,389.9 L445.0,389.9 L445.2,389.9 L445.4,389.9 L445.6,389.9 L445.8,389.8 L446.0,389.8 L446.2,389.8 L446.4,389.8 L446.6,389.8 L446.8,389.7 L447.0,389.7 L447.2,389.7 L447.4,389.7 L447.6,389.7 L447.8,389.6 L448.0,389.6 L448.2,389.6 L448.4,389.6 L448.6,389.6 L448.8,389.5 L449.0,389.5 L449.2,389.5 L449.4,389.5 L449.6,389.4 L449.8,389.4 L450.0,389.4 L450.2,389.3 L450.4,389.3 L450.6,389.3 L450.8,389.3 L451.0,389.2 L451.2,389.2 L451.4,389.2 L451.6,389.1 L451.8,389.1 L452.0,389.1 L452.2,389.1 L452.4,389.0 L452.6,389.0 L452.8,389.0 L453.0,388.9 L453.2,388.9 L453.4,388.8 L453.6,388.8 L453.8,388.8 L454.0,388.7 L454.2,388.7 L454.4,388.7 L454.6,388.6 L454.8,388.6 L455.0,388.5 L455.2,388.5 L455.3,388.4 L455.5,388.4 L455.7,388.3 L455.9,388.3 L456.1,388.2 L456.3,388.2 L456.5,388.1 L456.7,388.1 L456.9,388.0 L457.1,388.0 L457.3,387.9 L457.5,387.9 L457.7,387.8 L457.9,387.7 L458.1,387.7 L458.3,387.6 L458.5,387.5 L458.7,387.5 L458.9,387.4 L459.1,387.3 L459.3,387.2 L459.5,387.2 L459.7,387.1 L459.9,387.0 L460.1,386.9 L460.3,386.8 L460.5,386.7 L460.7,386.6 L460.9,386.5 L461.1,386.4 L461.3,386.3 L461.5,386.1 L461.7,386.0 L461.9,385.9 L462.1,385.7 L462.3,385.6 L462.5,385.4 L462.7,385.2 L462.9,385.1 L463.1,384.9 L463.3,384.7 L463.5,384.5 L463.7,384.3 L463.9,384.0 L464.1,383.8 L464.3,383.5 L464.5,383.2 L464.7,382.9 L464.9,382.6 L465.1,382.3 L465.3,382.0 L465.5,381.6 L465.7,381.2 L465.9,380.8 L466.1,380.3 L466.3,379.9 L466.5,379.4 L466.7,378.9 L466.9,378.3 L467.1,377.7 L467.3,377.1 L467.5,376.5 L467.7,375.8 L467.9,375.0 L468.1,374.3 L468.3,373.5 L468.5,372.6 L468.6,371.7 L468.8,370.8 L469.0,369.8 L469.2,368.7 L469.4,367.7 L469.6,366.5 L469.8,365.3 L470.0,364.1 L470.2,362.7 L470.4,361.4 L470.6,359.9 L470.8,358.5 L471.0,356.9 L471.2,355.3 L471.4,353.6 L471.6,351.9 L471.8,350.1 L472.0,348.2 L472.2,346.3 L472.4,344.3 L472.6,342.3 L472.8,340.2 L473.0,338.0 L473.2,335.7 L473.4,333.5 L473.6,331.1 L473.8,328.7 L474.0,326.2 L474.2,323.7 L474.4,321.2 L474.6,318.6 L474.8,315.9 L475.0,313.2 L475.2,310.5 L475.4,307.8 L475.6,305.0 L475.8,302.2 L476.0,299.4 L476.2,296.6 L476.4,293.7 L476.6,290.9 L476.8,288.1 L477.0,285.3 L477.2,282.5 L477.4,279.7 L477.6,277.0 L477.8,274.3 L478.0,271.7 L478.2,269.1 L478.4,266.6 L478.6,264.2 L478.8,261.9 L479.0,259.6 L479.2,257.5 L479.4,255.5 L479.6,253.6 L479.8,251.8 L480.0,250.2 L480.2,248.7 L480.4,247.4 L480.6,246.2 L480.8,245.2 L481.0,244.4 L481.2,243.7 L481.4,243.3 L481.6,243.0 L481.8,242.9 L481.9,243.0 L482.1,243.3 L482.3,243.7 L482.5,244.4 L482.7,245.2 L482.9,246.2 L483.1,247.4 L483.3,248.7 L483.5,250.2 L483.7,251.8 L483.9,253.6 L484.1,255.5 L484.3,257.5 L484.5,259.6 L484.7,261.9 L484.9,264.2 L485.1,266.6 L485.3,269.1 L485.5,271.7 L485.7,274.3 L485.9,277.0 L486.1,279.7 L486.3,282.5 L486.5,285.3 L486.7,288.1 L486.9,290.9 L487.1,293.7 L487.3,296.6 L487.5,299.4 L487.7,302.2 L487.9,305.0 L488.1,307.8 L488.3,310.5 L488.5,313.2 L488.7,315.9 L488.9,318.6 L489.1,321.2 L489.3,323.7 L489.5,326.2 L489.7,328.7 L489.9,331.1 L490.1,333.5 L490.3,335.7 L490.5,338.0 L490.7,340.2 L490.9,342.3 L491.1,344.3 L491.3,346.3 L491.5,348.2 L491.7,350.1 L491.9,351.9 L492.1,353.6 L492.3,355.3 L492.5,356.9 L492.7,358.5 L492.9,359.9 L493.1,361.4 L493.3,362.7 L493.5,364.1 L493.7,365.3 L493.9,366.5 L494.1,367.7 L494.3,368.7 L494.5,369.8 L494.7,370.8 L494.9,371.7 L495.0,372.6 L495.2,373.5 L495.4,374.3 L495.6,375.0 L495.8,375.8 L496.0,376.5 L496.2,377.1 L496.4,377.7 L496.6,378.3 L496.8,378.9 L497.0,379.4 L497.2,379.9 L497.4,380.3 L497.6,380.8 L497.8,381.2 L498.0,381.6 L498.2,382.0 L498.4,382.3 L498.6,382.6 L498.8,382.9 L499.0,383.2 L499.2,383.5 L499.4,383.8 L499.6,384.0 L499.8,384.3 L500.0,384.5 L500.2,384.7 L500.4,384.9 L500.6,385.1 L500.8,385.2 L501.0,385.4 L501.2,385.6 L501.4,385.7 L501.6,385.9 L501.8,386.0 L502.0,386.1 L502.2,386.3 L502.4,386.4 L502.6,386.5 L502.8,386.6 L503.0,386.7 L503.2,386.8 L503.4,386.9 L503.6,387.0 L503.8,387.1 L504.0,387.2 L504.2,387.2 L504.4,387.3 L504.6,387.4 L504.8,387.5 L505.0,387.5 L505.2,387.6 L505.4,387.7 L505.6,387.7 L505.8,387.8 L506.0,387.9 L506.2,387.9 L506.4,388.0 L506.6,388.0 L506.8,388.1 L507.0,388.1 L507.2,388.2 L507.4,388.2 L507.6,388.3 L507.8,388.3 L508.0,388.4 L508.2,388.4 L508.3,388.5 L508.5,388.5 L508.7,388.6 L508.9,388.6 L509.1,388.7 L509.3,388.7 L509.5,388.7 L509.7,388.8 L509.9,388.8 L510.1,388.8 L510.3,388.9 L510.5,388.9 L510.7,389.0 L510.9,389.0 L511.1,389.0 L511.3,389.1 L511.5,389.1 L511.7,389.1 L511.9,389.1 L512.1,389.2 L512.3,389.2 L512.5,389.2 L512.7,389.3 L512.9,389.3 L513.1,389.3 L513.3,389.3 L513.5,389.4 L513.7,389.4 L513.9,389.4 L514.1,389.5 L514.3,389.5 L514.5,389.5 L514.7,389.5 L514.9,389.6 L515.1,389.6 L515.3,389.6 L515.5,389.6 L515.7,389.6 L515.9,389.7 L516.1,389.7 L516.3,389.7 L516.5,389.7 L516.7,389.7 L516.9,389.8 L517.1,389.8 L517.3,389.8 L517.5,389.8 L517.7,389.8 L517.9,389.9 L518.1,389.9 L518.3,389.9 L518.5,389.9 L518.7,389.9 L518.9,390.0 L519.1,390.0 L519.3,390.0 L519.5,390.0 L519.7,390.0 L519.9,390.0 L520.1,390.1 L520.3,390.1 L520.5,390.1 L520.7,390.1 L520.9,390.1 L521.1,390.1 L521.3,390.1 L521.5,390.2 L521.6,390.2 L521.8,390.2 L522.0,390.2 L522.2,390.2 L522.4,390.2 L522.6,390.2 L522.8,390.2 L523.0,390.3 L523.2,390.3 L523.4,390.3 L523.6,390.3 L523.8,390.3 L524.0,390.3 L524.2,390.3 L524.4,390.3 L524.6,390.4 L524.8,390.4 L525.0,390.4 L525.2,390.4 L525.4,390.4 L525.6,390.4 L525.8,390.4 L526.0,390.4 L526.2,390.4 L526.4,390.5 L526.6,390.5 L526.8,390.5 L527.0,390.5 L527.2,390.5 L527.4,390.5 L527.6,390.5 L527.8,390.5 L528.0,390.5 L528.2,390.5 L528.4,390.5 L528.6,390.6 L528.8,390.6 L529.0,390.6 L529.2,390.6 L529.4,390.6 L529.6,390.6 L529.8,390.6 L530.0,390.6 L530.2,390.6 L530.4,390.6 L530.6,390.6 L530.8,390.6 L531.0,390.7 L531.2,390.7 L531.4,390.7 L531.6,390.7 L531.8,390.7 L532.0,390.7 L532.2,390.7 L532.4,390.7 L532.6,390.7 L532.8,390.7 L533.0,390.7 L533.2,390.7 L533.4,390.7 L533.6,390.7 L533.8,390.7 L534.0,390.8 L534.2,390.8 L534.4,390.8 L534.6,390.8 L534.7,390.8 L534.9,390.8 L535.1,390.8 L535.3,390.8 L535.5,390.8 L535.7,390.8 L535.9,390.8 L536.1,390.8 L536.3,390.8 L536.5,390.8 L536.7,390.8 L536.9,390.8 L537.1,390.8 L537.3,390.9 L537.5,390.9 L537.7,390.9 L537.9,390.9 L538.1,390.9 L538.3,390.9 L538.5,390.9 L538.7,390.9 L538.9,390.9 L539.1,390.9 L539.3,390.9 L539.5,390.9 L539.7,390.9 L539.9,390.9 L540.1,390.9 L540.3,390.9 L540.5,390.9 L540.7,390.9 L540.9,390.9 L541.1,390.9 L541.3,391.0 L541.5,391.0 L541.7,391.0 L541.9,391.0 L542.1,391.0 L542.3,391.0 L542.5,391.0 L542.7,391.0 L542.9,391.0 L543.1,391.0 L543.3,391.0 L543.5,391.0 L543.7,391.0 L543.9,391.0 L544.1,391.0 L544.3,391.0 L544.5,391.0 L544.7,391.0 L544.9,391.0 L545.1,391.0 L545.3,391.0 L545.5,391.0 L545.7,391.0 L545.9,391.0 L546.1,391.0 L546.3,391.0 L546.5,391.1 L546.7,391.1 L546.9,391.1 L547.1,391.1 L547.3,391.1 L547.5,391.1 L547.7,391.1 L547.9,391.1 L548.0,391.1 L548.2,391.1 L548.4,391.1 L548.6,391.1 L548.8,391.1 L549.0,391.1 L549.2,391.1 L549.4,391.1 L549.6,391.1 L549.8,391.1 L550.0,391.1 L550.2,391.1 L550.4,391.1 L550.6,391.1 L550.8,391.1 L551.0,391.1 L551.2,391.1 L551.4,391.1 L551.6,391.1 L551.8,391.1 L552.0,391.1 L552.2,391.1 L552.4,391.1 L552.6,391.1 L552.8,391.1 L553.0,391.1 L553.2,391.1 L553.4,391.2 L553.6,391.2 L553.8,391.2 L554.0,391.2 L554.2,391.2 L554.4,391.2 L554.6,391.2 L554.8,391.2 L555.0,391.2 L555.2,391.2 L555.4,391.2 L555.6,391.2 L555.8,391.2 L556.0,391.2 L556.2,391.2 L556.4,391.2 L556.6,391.2 L556.8,391.2 L557.0,391.2 L557.2,391.2 L557.4,391.2 L557.6,391.2 L557.8,391.2 L558.0,391.2 L558.2,391.2 L558.4,391.2 L558.6,391.2 L558.8,391.2 L559.0,391.2 L559.2,391.2 L559.4,391.2 L559.6,391.2 L559.8,391.2 L560.0,391.2 L560.2,391.2 L560.4,391.2 L560.6,391.2 L560.8,391.2 L561.0,391.2 L561.1,391.2 L561.3,391.2 L561.5,391.2 L561.7,391.2 L561.9,391.2 L562.1,391.2 L562.3,391.2 L562.5,391.2 L562.7,391.3 L562.9,391.3 L563.1,391.3 L563.3,391.3 L563.5,391.3 L563.7,391.3 L563.9,391.3 L564.1,391.3 L564.3,391.3 L564.5,391.3 L564.7,391.3 L564.9,391.3 L565.1,391.3 L565.3,391.3 L565.5,391.3 L565.7,391.3 L565.9,391.3 L566.1,391.3 L566.3,391.3 L566.5,391.3 L566.7,391.3 L566.9,391.3 L567.1,391.3 L567.3,391.3 L567.5,391.3 L567.7,391.3 L567.9,391.3 L568.1,391.3 L568.3,391.3 L568.5,391.3 L568.7,391.3 L568.9,391.3 L569.1,391.3 L569.3,391.3 L569.5,391.3 L569.7,391.3 L569.9,391.3 L570.1,391.3 L570.3,391.3 L570.5,391.3 L570.7,391.3 L570.9,391.3 L571.1,391.3 L571.3,391.3 L571.5,391.3 L571.7,391.3 L571.9,391.3 L572.1,391.3 L572.3,391.3 L572.5,391.3 L572.7,391.3 L572.9,391.3 L573.1,391.3 L573.3,391.3 L573.5,391.3 L573.7,391.3 L573.9,391.3 L574.1,391.3 L574.3,391.3 L574.4,391.3 L574.6,391.3 L574.8,391.3 L575.0,391.3 L575.2,391.3 L575.4,391.3 L575.6,391.3 L575.8,391.3 L576.0,391.3 L576.2,391.3 L576.4,391.3 L576.6,391.3 L576.8,391.3 L577.0,391.3 L577.2,391.4 L577.4,391.4 L577.6,391.4 L577.8,391.4 L578.0,391.4 L578.2,391.4 L578.4,391.4 L578.6,391.4 L578.8,391.4 L579.0,391.4 L579.2,391.4 L579.4,391.4 L579.6,391.4 L579.8,391.4 L580.0,391.4 L580.2,391.4 L580.4,391.4 L580.6,391.4 L580.8,391.4 L581.0,391.4 L581.2,391.4" stroke="#ff4040" stroke-width="0.6" fill="none" stroke-linejoin="round"/>
<path d="M386.5,391.3h0M386.7,391.3h0M386.9,391.3h0M387.1,391.3h0M387.3,391.3h0M387.5,391.3h0M387.7,391.3h0M387.9,391.3h0M388.1,391.3h0M388.3,391.3h0M388.5,391.3h0M388.7,391.3h0M388.9,391.3h0M389.1,391.3h0M389.2,391.3h0M389.4,391.3h0M389.6,391.3h0M389.8,391.3h0M390.0,391.3h0M390.2,391.3h0M390.4,391.3h0M390.6,391.3h0M390.8,391.3h0M391.0,391.3h0M391.2,391.3h0M391.4,391.3h0M391.6,391.3h0M391.8,391.3h0M392.0,391.3h0M392.2,391.3h0M392.4,391.3h0M392.6,391.3h0M392.8,391.3h0M393.0,391.3h0M393.2,391.3h0M393.4,391.3h0M393.6,391.3h0M393.8,391.3h0M394.0,391.3h0M394.2,391.3h0M394.4,391.3h0M394.6,391.3h0M394.8,391.3h0M395.0,391.3h0M395.2,391.3h0M395.4,391.3h0M395.6,391.3h0M395.8,391.3h0M396.0,391.3h0M396.2,391.3h0M396.4,391.3h0M396.6,391.3h0M396.8,391.3h0M397.0,391.3h0M397.2,391.3h0M397.4,391.3h0M397.6,391.3h0M397.8,391.3h0M398.0,391.3h0M398.2,391.3h0M398.4,391.3h0M398.6,391.3h0M398.8,391.3h0M399.0,391.3h0M399.2,391.3h0M399.4,391.3h0M399.6,391.3h0M399.8,391.3h0M400.0,391.3h0M400.2,391.3h0M400.4,391.3h0M400.6,391.3h0M400.8,391.3h0M401.0,391.2h0M401.2,391.2h0M401.4,391.2h0M401.6,391.2h0M401.8,391.2h0M402.0,391.2h0M402.2,391.2h0M402.4,391.2h0M402.5,391.2h0M402.7,391.2h0M402.9,391.2h0M403.1,391.2h0M403.3,391.2h0M403.5,391.2h0M403.7,391.2h0M403.9,391.2h0M404.1,391.2h0M404.3,391.2h0M404.5,391.2h0M404.7,391.2h0M404.9,391.2h0M405.1,391.2h0M405.3,391.2h0M405.5,391.2h0M405.7,391.2h0M405.9,391.2h0M406.1,391.2h0M406.3,391.2h0M406.5,391.2h0M406.7,391.2h0M406.9,391.2h0M407.1,391.2h0M407.3,391.2h0M407.5,391.2h0M407.7,391.2h0M407.9,391.2h0M408.1,391.2h0M408.3,391.2h0M408.5,391.2h0M408.7,391.2h0M408.9,391.2h0M409.1,391.2h0M409.3,391.2h0M409.5,391.2h0M409.7,391.2h0M409.9,391.2h0M410.1,391.2h0M410.3,391.1h0M410.5,391.1h0M410.7,391.1h0M410.9,391.1h0M411.1,391.1h0M411.3,391.1h0M411.5,391.1h0M411.7,391.1h0M411.9,391.1h0M412.1,391.1h0M412.3,391.1h0M412.5,391.1h0M412.7,391.1h0M412.9,391.1h0M413.1,391.1h0M413.3,391.1h0M413.5,391.1h0M413.7,391.1h0M413.9,391.1h0M414.1,391.1h0M414.3,391.1h0M414.5,391.1h0M414.7,391.1h0M414.9,391.1h0M415.1,391.1h0M415.3,391.1h0M415.5,391.1h0M415.6,391.1h0M415.8,391.1h0M416.0,391.1h0M416.2,391.1h0M416.4,391.1h0M416.6,391.1h0M416.8,391.1h0M417.0,391.1h0M417.2,391.0h0M417.4,391.0h0M417.6,391.0h0M417.8,391.0h0M418.0,391.0h0M418.2,391.0h0M418.4,391.0h0M418.6,391.0h0M418.8,391.0h0M419.0,391.0h0M419.2,391.0h0M419.4,391.0h0M419.6,391.0h0M419.8,391.0h0M420.0,391.0h0M420.2,391.0h0M420.4,391.0h0M420.6,391.0h0M420.8,391.0h0M421.0,391.0h0M421.2,391.0h0M421.4,391.0h0M421.6,391.0h0M421.8,391.0h0M422.0,391.0h0M422.2,391.0h0M422.4,390.9h0M422.6,390.9h0M422.8,390.9h0M423.0,390.9h0M423.2,390.9h0M423.4,390.9h0M423.6,390.9h0M423.8,390.9h0M424.0,390.9h0M424.2,390.9h0M424.4,390.9h0M424.6,390.9h0M424.8,390.9h0M425.0,390.9h0M425.2,390.9h0M425.4,390.9h0M425.6,390.9h0M425.8,390.9h0M426.0,390.9h0M426.2,390.9h0M426.4,390.8h0M426.6,390.8h0M426.8,390.8h0M427.0,390.8h0M427.2,390.8h0M427.4,390.8h0M427.6,390.8h0M427.8,390.8h0M428.0,390.8h0M428.2,390.8h0M428.4,390.8h0M428.6,390.8h0M428.8,390.8h0M428.9,390.8h0M429.1,390.8h0M429.3,390.8h0M429.5,390.8h0M429.7,390.7h0M429.9,390.7h0M430.1,390.7h0M430.3,390.7h0M430.5,390.7h0M430.7,390.7h0M430.9,390.7h0M431.1,390.7h0M431.3,390.7h0M431.5,390.7h0M431.7,390.7h0M431.9,390.7h0M432.1,390.7h0M432.3,390.7h0M432.5,390.7h0M432.7,390.6h0M432.9,390.6h0M433.1,390.6h0M433.3,390.6h0M433.5,390.6h0M433.7,390.6h0M433.9,390.6h0M434.1,390.6h0M434.3,390.6h0M434.5,390.6h0M434.7,390.6h0M434.9,390.6h0M435.1,390.5h0M435.3,390.5h0M435.5,390.5h0M435.7,390.5h0M435.9,390.5h0M436.1,390.5h0M436.3,390.5h0M436.5,390.5h0M436.7,390.5h0M436.9,390.5h0M437.1,390.5h0M437.3,390.4h0M437.5,390.4h0M437.7,390.4h0M437.9,390.4h0M438.1,390.4h0M438.3,390.4h0M438.5,390.4h0M438.7,390.4h0M438.9,390.4h0M439.1,390.3h0M439.3,390.3h0M439.5,390.3h0M439.7,390.3h0M439.9,390.3h0M440.1,390.3h0M440.3,390.3h0M440.5,390.3h0M440.7,390.2h0M440.9,390.2h0M441.1,390.2h0M441.3,390.2h0M441.5,390.2h0M441.7,390.2h0M441.9,390.2h0M442.1,390.2h0M442.2,390.1h0M442.4,390.1h0M442.6,390.1h0M442.8,390.1h0M443.0,390.1h0M443.2,390.1h0M443.4,390.1h0M443.6,390.0h0M443.8,390.0h0M444.0,390.0h0M444.2,390.0h0M444.4,390.0h0M444.6,390.0h0M444.8,389.9h0M445.0,389.9h0M445.2,389.9h0M445.4,389.9h0M445.6,389.9h0M445.8,389.8h0M446.0,389.8h0M446.2,389.8h0M446.4,389.8h0M446.6,389.8h0M446.8,389.7h0M447.0,389.7h0M447.2,389.7h0M447.4,389.7h0M447.6,389.7h0M447.8,389.6h0M448.0,389.6h0M448.2,389.6h0M448.4,389.6h0M448.6,389.6h0M448.8,389.5h0M449.0,389.5h0M449.2,389.5h0M449.4,389.5h0M449.6,389.4h0M449.8,389.4h0M450.0,389.4h0M450.2,389.3h0M450.4,389.3h0M450.6,389.3h0M450.8,389.3h0M451.0,389.2h0M451.2,389.2h0M451.4,389.2h0M451.6,389.1h0M451.8,389.1h0M452.0,389.1h0M452.2,389.1h0M452.4,389.0h0M452.6,389.0h0M452.8,389.0h0M453.0,388.9h0M453.2,388.9h0M453.4,388.8h0M453.6,388.8h0M453.8,388.8h0M454.0,388.7h0M454.2,388.7h0M454.4,388.7h0M454.6,388.6h0M454.8,388.6h0M455.0,388.5h0M455.2,388.5h0M455.3,388.4h0M455.5,388.4h0M455.7,388.3h0M455.9,388.3h0M456.1,388.2h0M456.3,388.2h0M456.5,388.1h0M456.7,388.1h0M456.9,388.0h0M457.1,388.0h0M457.3,387.9h0M457.5,387.9h0M457.7,387.8h0M457.9,387.7h0M458.1,387.7h0M458.3,387.6h0M458.5,387.5h0M458.7,387.5h0M458.9,387.4h0M459.1,387.3h0M459.3,387.2h0M459.5,387.2h0M459.7,387.1h0M459.9,387.0h0M460.1,386.9h0M460.3,386.8h0M460.5,386.7h0M460.7,386.6h0M460.9,386.5h0M461.1,386.4h0M461.3,386.3h0M461.5,386.1h0M461.7,386.0h0M461.9,385.9h0M462.1,385.7h0M462.3,385.6h0M462.5,385.4h0M462.7,385.2h0M462.9,385.1h0M463.1,384.9h0M463.3,384.7h0M463.5,384.5h0M463.7,384.3h0M463.9,384.0h0M464.1,383.8h0M464.3,383.5h0M464.5,383.2h0M464.7,382.9h0M464.9,382.6h0M465.1,382.3h0M465.3,382.0h0M465.5,381.6h0M465.7,381.2h0M465.9,380.8h0M466.1,380.3h0M466.3,379.9h0M466.5,379.4h0M466.7,378.9h0M466.9,378.3h0M467.1,377.7h0M467.3,377.1h0M467.5,376.5h0M467.7,375.8h0M467.9,375.0h0M468.1,374.3h0M468.3,373.5h0M468.5,372.6h0M468.6,371.7h0M468.8,370.8h0M469.0,369.8h0M469.2,368.7h0M469.4,367.7h0M469.6,366.5h0M469.8,365.3h0M470.0,364.1h0M470.2,362.7h0M470.4,361.4h0M470.6,359.9h0M470.8,358.5h0M471.0,356.9h0M471.2,355.3h0M471.4,353.6h0M471.6,351.9h0M471.8,350.1h0M472.0,348.2h0M472.2,346.3h0M472.4,344.3h0M472.6,342.3h0M472.8,340.2h0M473.0,338.0h0M473.2,335.7h0M473.4,333.5h0M473.6,331.1h0M473.8,328.7h0M474.0,326.2h0M474.2,323.7h0M474.4,321.2h0M474.6,318.6h0M474.8,315.9h0M475.0,313.2h0M475.2,310.5h0M475.4,307.8h0M475.6,305.0h0M475.8,302.2h0M476.0,299.4h0M476.2,296.6h0M476.4,293.7h0M476.6,290.9h0M476.8,288.1h0M477.0,285.3h0M477.2,282.5h0M477.4,279.7h0M477.6,277.0h0M477.8,274.3h0M478.0,271.7h0M478.2,269.1h0M478.4,266.6h0M478.6,264.2h0M478.8,261.9h0M479.0,259.6h0M479.2,257.5h0M479.4,255.5h0M479.6,253.6h0M479.8,251.8h0M480.0,250.2h0M480.2,248.7h0M480.4,247.4h0M480.6,246.2h0M480.8,245.2h0M481.0,244.4h0M481.2,243.7h0M481.4,243.3h0M481.6,243.0h0M481.8,242.9h0M481.9,243.0h0M482.1,243.3h0M482.3,243.7h0M482.5,244.4h0M482.7,245.2h0M482.9,246.2h0M483.1,247.4h0M483.3,248.7h0M483.5,250.2h0M483.7,251.8h0M483.9,253.6h0M484.1,255.5h0M484.3,257.5h0M484.5,259.6h0M484.7,261.9h0M484.9,264.2h0M485.1,266.6h0M485.3,269.1h0M485.5,271.7h0M485.7,274.3h0M485.9,277.0h0M486.1,279.7h0M486.3,282.5h0M486.5,285.3h0M486.7,288.1h0M486.9,290.9h0M487.1,293.7h0M487.3,296.6h0M487.5,299.4h0M487.7,302.2h0M487.9,305.0h0M488.1,307.8h0M488.3,310.5h0M488.5,313.2h0M488.7,315.9h0M488.9,318.6h0M489.1,321.2h0M489.3,323.7h0M489.5,326.2h0M489.7,328.7h0M489.9,331.1h0M490.1,333.5h0M490.3,335.7h0M490.5,338.0h0M490.7,340.2h0M490.9,342.3h0M491.1,344.3h0M491.3,346.3h0M491.5,348.2h0M491.7,350.1h0M491.9,351.9h0M492.1,353.6h0M492.3,355.3h0M492.5,356.9h0M492.7,358.5h0M492.9,359.9h0M493.1,361.4h0M493.3,362.7h0M493.5,364.1h0M493.7,365.3h0M493.9,366.5h0M494.1,367.7h0M494.3,368.7h0M494.5,369.8h0M494.7,370.8h0M494.9,371.7h0M495.0,372.6h0M495.2,373.5h0M495.4,374.3h0M495.6,375.0h0M495.8,375.8h0M496.0,376.5h0M496.2,377.1h0M496.4,377.7h0M496.6,378.3h0M496.8,378.9h0M497.0,379.4h0M497.2,379.9h0M497.4,380.3h0M497.6,380.8h0M497.8,381.2h0M498.0,381.6h0M498.2,382.0h0M498.4,382.3h0M498.6,382.6h0M498.8,382.9h0M499.0,383.2h0M499.2,383.5h0M499.4,383.8h0M499.6,384.0h0M499.8,384.3h0M500.0,384.5h0M500.2,384.7h0M500.4,384.9h0M500.6,385.1h0M500.8,385.2h0M501.0,385.4h0M501.2,385.6h0M501.4,385.7h0M501.6,385.9h0M501.8,386.0h0M502.0,386.1h0M502.2,386.3h0M502.4,386.4h0M502.6,386.5h0M502.8,386.6h0M503.0,386.7h0M503.2,386.8h0M503.4,386.9h0M503.6,387.0h0M503.8,387.1h0M504.0,387.2h0M504.2,387.2h0M504.4,387.3h0M504.6,387.4h0M504.8,387.5h0M505.0,387.5h0M505.2,387.6h0M505.4,387.7h0M505.6,387.7h0M505.8,387.8h0M506.0,387.9h0M506.2,387.9h0M506.4,388.0h0M506.6,388.0h0M506.8,388.1h0M507.0,388.1h0M507.2,388.2h0M507.4,388.2h0M507.6,388.3h0M507.8,388.3h0M508.0,388.4h0M508.2,388.4h0M508.3,388.5h0M508.5,388.5h0M508.7,388.6h0M508.9,388.6h0M509.1,388.7h0M509.3,388.7h0M509.5,388.7h0M509.7,388.8h0M509.9,388.8h0M510.1,388.8h0M510.3,388.9h0M510.5,388.9h0M510.7,389.0h0M510.9,389.0h0M511.1,389.0h0M511.3,389.1h0M511.5,389.1h0M511.7,389.1h0M511.9,389.1h0M512.1,389.2h0M512.3,389.2h0M512.5,389.2h0M512.7,389.3h0M512.9,389.3h0M513.1,389.3h0M513.3,389.3h0M513.5,389.4h0M513.7,389.4h0M513.9,389.4h0M514.1,389.5h0M514.3,389.5h0M514.5,389.5h0M514.7,389.5h0M514.9,389.6h0M515.1,389.6h0M515.3,389.6h0M515.5,389.6h0M515.7,389.6h0M515.9,389.7h0M516.1,389.7h0M516.3,389.7h0M516.5,389.7h0M516.7,389.7h0M516.9,389.8h0M517.1,389.8h0M517.3,389.8h0M517.5,389.8h0M517.7,389.8h0M517.9,389.9h0M518.1,389.9h0M518.3,389.9h0M518.5,389.9h0M518.7,389.9h0M518.9,390.0h0M519.1,390.0h0M519.3,390.0h0M519.5,390.0h0M519.7,390.0h0M519.9,390.0h0M520.1,390.1h0M520.3,390.1h0M520.5,390.1h0M520.7,390.1h0M520.9,390.1h0M521.1,390.1h0M521.3,390.1h0M521.5,390.2h0M521.6,390.2h0M521.8,390.2h0M522.0,390.2h0M522.2,390.2h0M522.4,390.2h0M522.6,390.2h0M522.8,390.2h0M523.0,390.3h0M523.2,390.3h0M523.4,390.3h0M523.6,390.3h0M523.8,390.3h0M524.0,390.3h0M524.2,390.3h0M524.4,390.3h0M524.6,390.4h0M524.8,390.4h0M525.0,390.4h0M525.2,390.4h0M525.4,390.4h0M525.6,390.4h0M525.8,390.4h0M526.0,390.4h0M526.2,390.4h0M526.4,390.5h0M526.6,390.5h0M526.8,390.5h0M527.0,390.5h0M527.2,390.5h0M527.4,390.5h0M527.6,390.5h0M527.8,390.5h0M528.0,390.5h0M528.2,390.5h0M528.4,390.5h0M528.6,390.6h0M528.8,390.6h0M529.0,390.6h0M529.2,390.6h0M529.4,390.6h0M529.6,390.6h0M529.8,390.6h0M530.0,390.6h0M530.2,390.6h0M530.4,390.6h0M530.6,390.6h0M530.8,390.6h0M531.0,390.7h0M531.2,390.7h0M531.4,390.7h0M531.6,390.7h0M531.8,390.7h0M532.0,390.7h0M532.2,390.7h0M532.4,390.7h0M532.6,390.7h0M532.8,390.7h0M533.0,390.7h0M533.2,390.7h0M533.4,390.7h0M533.6,390.7h0M533.8,390.7h0M534.0,390.8h0M534.2,390.8h0M534.4,390.8h0M534.6,390.8h0M534.7,390.8h0M534.9,390.8h0M535.1,390.8h0M535.3,390.8h0M535.5,390.8h0M535.7,390.8h0M535.9,390.8h0M536.1,390.8h0M536.3,390.8h0M536.5,390.8h0M536.7,390.8h0M536.9,390.8h0M537.1,390.8h0M537.3,390.9h0M537.5,390.9h0M537.7,390.9h0M537.9,390.9h0M538.1,390.9h0M538.3,390.9h0M538.5,390.9h0M538.7,390.9h0M538.9,390.9h0M539.1,390.9h0M539.3,390.9h0M539.5,390.9h0M539.7,390.9h0M539.9,390.9h0M540.1,390.9h0M540.3,390.9h0M540.5,390.9h0M540.7,390.9h0M540.9,390.9h0M541.1,390.9h0M541.3,391.0h0M541.5,391.0h0M541.7,391.0h0M541.9,391.0h0M542.1,391.0h0M542.3,391.0h0M542.5,391.0h0M542.7,391.0h0M542.9,391.0h0M543.1,391.0h0M543.3,391.0h0M543.5,391.0h0M543.7,391.0h0M543.9,391.0h0M544.1,391.0h0M544.3,391.0h0M544.5,391.0h0M544.7,391.0h0M544.9,391.0h0M545.1,391.0h0M545.3,391.0h0M545.5,391.0h0M545.7,391.0h0M545.9,391.0h0M546.1,391.0h0M546.3,391.0h0M546.5,391.1h0M546.7,391.1h0M546.9,391.1h0M547.1,391.1h0M547.3,391.1h0M547.5,391.1h0M547.7,391.1h0M547.9,391.1h0M548.0,391.1h0M548.2,391.1h0M548.4,391.1h0M548.6,391.1h0M548.8,391.1h0M549.0,391.1h0M549.2,391.1h0M549.4,391.1h0M549.6,391.1h0M549.8,391.1h0M550.0,391.1h0M550.2,391.1h0M550.4,391.1h0M550.6,391.1h0M550.8,391.1h0M551.0,391.1h0M551.2,391.1h0M551.4,391.1h0M551.6,391.1h0M551.8,391.1h0M552.0,391.1h0M552.2,391.1h0M552.4,391.1h0M552.6,391.1h0M552.8,391.1h0M553.0,391.1h0M553.2,391.1h0M553.4,391.2h0M553.6,391.2h0M553.8,391.2h0M554.0,391.2h0M554.2,391.2h0M554.4,391.2h0M554.6,391.2h0M554.8,391.2h0M555.0,391.2h0M555.2,391.2h0M555.4,391.2h0M555.6,391.2h0M555.8,391.2h0M556.0,391.2h0M556.2,391.2h0M556.4,391.2h0M556.6,391.2h0M556.8,391.2h0M557.0,391.2h0M557.2,391.2h0M557.4,391.2h0M557.6,391.2h0M557.8,391.2h0M558.0,391.2h0M558.2,391.2h0M558.4,391.2h0M558.6,391.2h0M558.8,391.2h0M559.0,391.2h0M559.2,391.2h0M559.4,391.2h0M559.6,391.2h0M559.8,391.2h0M560.0,391.2h0M560.2,391.2h0M560.4,391.2h0M560.6,391.2h0M560.8,391.2h0M561.0,391.2h0M561.1,391.2h0M561.3,391.2h0M561.5,391.2h0M561.7,391.2h0M561.9,391.2h0M562.1,391.2h0M562.3,391.2h0M562.5,391.2h0M562.7,391.3h0M562.9,391.3h0M563.1,391.3h0M563.3,391.3h0M563.5,391.3h0M563.7,391.3h0M563.9,391.3h0M564.1,391.3h0M564.3,391.3h0M564.5,391.3h0M564.7,391.3h0M564.9,391.3h0M565.1,391.3h0M565.3,391.3h0M565.5,391.3h0M565.7,391.3h0M565.9,391.3h0M566.1,391.3h0M566.3,391.3h0M566.5,391.3h0M566.7,391.3h0M566.9,391.3h0M567.1,391.3h0M567.3,391.3h0M567.5,391.3h0M567.7,391.3h0M567.9,391.3h0M568.1,391.3h0M568.3,391.3h0M568.5,391.3h0M568.7,391.3h0M568.9,391.3h0M569.1,391.3h0M569.3,391.3h0M569.5,391.3h0M569.7,391.3h0M569.9,391.3h0M570.1,391.3h0M570.3,391.3h0M570.5,391.3h0M570.7,391.3h0M570.9,391.3h0M571.1,391.3h0M571.3,391.3h0M571.5,391.3h0M571.7,391.3h0M571.9,391.3h0M572.1,391.3h0M572.3,391.3h0M572.5,391.3h0M572.7,391.3h0M572.9,391.3h0M573.1,391.3h0M573.3,391.3h0M573.5,391.3h0M573.7,391.3h0M573.9,391.3h0M574.1,391.3h0M574.3,391.3h0M574.4,391.3h0M574.6,391.3h0M574.8,391.3h0M575.0,391.3h0M575.2,391.3h0M575.4,391.3h0M575.6,391.3h0M575.8,391.3h0M576.0,391.3h0M576.2,391.3h0M576.4,391.3h0M576.6,391.3h0M576.8,391.3h0M577.0,391.3h0M577.2,391.4h0M577.4,391.4h0M577.6,391.4h0M577.8,391.4h0M578.0,391.4h0M578.2,391.4h0M578.4,391.4h0M578.6,391.4h0M578.8,391.4h0M579.0,391.4h0M579.2,391.4h0M579.4,391.4h0M579.6,391.4h0M579.8,391.4h0M580.0,391.4h0M580.2,391.4h0M580.4,391.4h0M580.6,391.4h0M580.8,391.4h0M581.0,391.4h0M581.2,391.4h0" stroke="#f01515" stroke-width="1.9" fill="none" stroke-linecap="round"/>
</g>
<rect x="490.3" y="233.5" width="93.1" height="28" fill="#000"/>
<rect x="488.1" y="231.3" width="92.7" height="28" fill="#fff" stroke="#444" stroke-width="0.7"/>
<path d="M491.8,238.7h7.8M508.1,238.7h8.5" stroke="#ff7070" stroke-width="0.9"/><circle cx="503.6" cy="238.7" r="0.9" fill="#e01010"/>
<path d="M491.8,252.5h7.8M508.1,252.5h8.5" stroke="#6a6aff" stroke-width="0.9"/><circle cx="503.6" cy="252.5" r="0.9" fill="#1010e0"/>
<text x="519.3" y="242.7" font-size="10.9" textLength="56.2" lengthAdjust="spacingAndGlyphs" fill="#111" stroke="#111" stroke-width="0.15">PL Intensity</text>
<text x="519.3" y="255.8" font-size="10.9" textLength="55.2" lengthAdjust="spacingAndGlyphs" fill="#111" stroke="#111" stroke-width="0.15">Absorbance</text>
<text x="359.8" y="395.7" font-size="12.4" text-anchor="end" fill="#111"  stroke="#111" stroke-width="0.35">0.0</text>
<text x="588.2" y="395.7" font-size="12.4" text-anchor="start" fill="#111"  stroke="#111" stroke-width="0.35">0.0</text>
<text x="359.8" y="365.96" font-size="12.4" text-anchor="end" fill="#111"  stroke="#111" stroke-width="0.35">0.2</text>
<text x="588.2" y="365.96" font-size="12.4" text-anchor="start" fill="#111"  stroke="#111" stroke-width="0.35">0.2</text>
<text x="359.8" y="336.21999999999997" font-size="12.4" text-anchor="end" fill="#111"  stroke="#111" stroke-width="0.35">0.4</text>
<text x="588.2" y="336.21999999999997" font-size="12.4" text-anchor="start" fill="#111"  stroke="#111" stroke-width="0.35">0.4</text>
<text x="359.8" y="306.47999999999996" font-size="12.4" text-anchor="end" fill="#111"  stroke="#111" stroke-width="0.35">0.6</text>
<text x="588.2" y="306.47999999999996" font-size="12.4" text-anchor="start" fill="#111"  stroke="#111" stroke-width="0.35">0.6</text>
<text x="359.8" y="276.74" font-size="12.4" text-anchor="end" fill="#111"  stroke="#111" stroke-width="0.35">0.8</text>
<text x="588.2" y="276.74" font-size="12.4" text-anchor="start" fill="#111"  stroke="#111" stroke-width="0.35">0.8</text>
<text x="359.8" y="247.0" font-size="12.4" text-anchor="end" fill="#111"  stroke="#111" stroke-width="0.35">1.0</text>
<text x="588.2" y="247.0" font-size="12.4" text-anchor="start" fill="#111"  stroke="#111" stroke-width="0.35">1.0</text>
<text x="382.2" y="406.2" font-size="12.8" text-anchor="middle" fill="#111"  stroke="#111" stroke-width="0.35">400</text>
<text x="421.9" y="406.2" font-size="12.8" text-anchor="middle" fill="#111"  stroke="#111" stroke-width="0.35">500</text>
<text x="461.59999999999997" y="406.2" font-size="12.8" text-anchor="middle" fill="#111"  stroke="#111" stroke-width="0.35">600</text>
<text x="501.3" y="406.2" font-size="12.8" text-anchor="middle" fill="#111"  stroke="#111" stroke-width="0.35">700</text>
<text x="541.0" y="406.2" font-size="12.8" text-anchor="middle" fill="#111"  stroke="#111" stroke-width="0.35">800</text>
<text x="580.7" y="406.2" font-size="12.8" text-anchor="middle" fill="#111"  stroke="#111" stroke-width="0.35">900</text>
<text x="414.6" y="421.5" font-size="16.6" textLength="118.3" lengthAdjust="spacingAndGlyphs" fill="#111" stroke="#111" stroke-width="0.35">Wavelength(nm)</text>
<text font-size="17" textLength="125.6" lengthAdjust="spacingAndGlyphs" fill="#111" transform="translate(337.7,383.3) rotate(-90)" stroke="#111" stroke-width="0.35">Absorbance(a.u.)</text>
<text font-size="17" textLength="128" lengthAdjust="spacingAndGlyphs" fill="#111" transform="translate(616.5,382.7) rotate(-90)" stroke="#111" stroke-width="0.35">PL Intensity(a.u.)</text>
<text x="340.7" y="424.8" font-size="22.3" textLength="25.4" lengthAdjust="spacingAndGlyphs" fill="#fb9a0e" stroke="#fb9a0e" stroke-width="0.35">(e)</text>
<rect x="667.8" y="230.5" width="224.7" height="168.3" fill="#fff" stroke="#5c5c5c" stroke-width="1.1"/>
<path d="M681.0,398.8v-3.2M681.0,230.5v3.2M694.2,398.8v-2M694.2,230.5v2M707.4,398.8v-3.2M707.4,230.5v3.2M720.6,398.8v-2M720.6,230.5v2M733.8,398.8v-3.2M733.8,230.5v3.2M747.0,398.8v-2M747.0,230.5v2M760.2,398.8v-3.2M760.2,230.5v3.2M773.4,398.8v-2M773.4,230.5v2M786.6,398.8v-3.2M786.6,230.5v3.2M799.8,398.8v-2M799.8,230.5v2M813.0,398.8v-3.2M813.0,230.5v3.2M826.2,398.8v-2M826.2,230.5v2M839.4,398.8v-3.2M839.4,230.5v3.2M852.6,398.8v-2M852.6,230.5v2M865.8,398.8v-3.2M865.8,230.5v3.2M879.0,398.8v-2M879.0,230.5v2M667.8,398.6h3.2M892.5,398.6h-3.2M667.8,382.6h2M892.5,382.6h-2M667.8,366.7h3.2M892.5,366.7h-3.2M667.8,350.7h2M892.5,350.7h-2M667.8,334.7h3.2M892.5,334.7h-3.2M667.8,318.8h2M892.5,318.8h-2M667.8,302.8h3.2M892.5,302.8h-3.2M667.8,286.8h2M892.5,286.8h-2M667.8,270.8h3.2M892.5,270.8h-3.2M667.8,254.9h2M892.5,254.9h-2M667.8,238.9h3.2M892.5,238.9h-3.2" stroke="#5c5c5c" stroke-width="0.9" fill="none"/>
<g clip-path="url(#clipF)">
<path d="M668.9,397.5 L669.4,397.5 L669.9,397.5 L670.4,397.5 L671.0,397.5 L671.5,397.5 L672.0,397.5 L672.6,397.4 L673.1,397.4 L673.6,397.4 L674.1,397.4 L674.7,397.4 L675.2,397.4 L675.7,397.4 L676.2,397.3 L676.8,397.3 L677.3,397.3 L677.8,397.3 L678.4,397.3 L678.9,397.2 L679.4,397.2 L679.9,397.2 L680.5,397.1 L681.0,397.1 L681.5,397.1 L682.1,397.0 L682.6,397.0 L683.1,396.9 L683.6,396.9 L684.2,396.8 L684.7,396.7 L685.2,396.5 L685.8,396.2 L686.3,395.8 L686.8,395.4 L687.3,394.8 L687.9,394.3 L688.4,393.6 L688.9,392.9 L689.4,392.2 L690.0,391.4 L690.5,390.4 L691.0,389.0 L691.6,387.4 L692.1,385.6 L692.6,383.5 L693.1,381.2 L693.7,378.7 L694.2,376.0 L694.7,373.1 L695.3,370.1 L695.8,366.9 L696.3,363.0 L696.8,358.4 L697.4,353.2 L697.9,347.5 L698.4,341.3 L699.0,334.9 L699.5,328.1 L700.0,320.2 L700.5,311.4 L701.1,301.9 L701.6,292.1 L702.1,282.1 L702.6,270.5 L703.2,258.9 L703.7,250.1 L704.2,243.5 L704.8,239.2 L705.3,240.4 L705.8,246.0 L706.3,253.3 L706.9,264.6 L707.4,277.4 L707.9,288.1 L708.5,297.5 L709.0,306.5 L709.5,315.0 L710.0,322.5 L710.6,329.1 L711.1,334.8 L711.6,340.0 L712.2,344.9 L712.7,349.3 L713.2,353.4 L713.7,357.0 L714.3,360.0 L714.8,362.7 L715.3,365.0 L715.8,367.2 L716.4,369.2 L716.9,371.0 L717.4,372.6 L718.0,373.9 L718.5,374.9 L719.0,375.9 L719.5,376.9 L720.1,377.8 L720.6,378.6 L721.1,379.4 L721.7,380.1 L722.2,380.7 L722.7,381.2 L723.2,381.5 L723.8,381.6 L724.3,381.6 L724.8,381.5 L725.4,381.2 L725.9,380.7 L726.4,380.2 L726.9,379.6 L727.5,378.9 L728.0,378.3 L728.5,377.3 L729.0,376.1 L729.6,374.7 L730.1,373.0 L730.6,371.2 L731.2,369.2 L731.7,367.2 L732.2,365.1 L732.7,363.0 L733.3,361.0 L733.8,359.0 L734.3,356.9 L734.9,354.6 L735.4,352.3 L735.9,349.9 L736.4,347.4 L737.0,345.0 L737.5,342.5 L738.0,340.1 L738.6,337.8 L739.1,335.6 L739.6,333.4 L740.1,331.3 L740.7,329.1 L741.2,326.9 L741.7,324.7 L742.2,322.7 L742.8,320.7 L743.3,318.8 L743.8,317.1 L744.4,315.5 L744.9,314.2 L745.4,313.0 L745.9,311.9 L746.5,310.8 L747.0,309.8 L747.5,308.8 L748.1,307.9 L748.6,307.0 L749.1,306.1 L749.6,305.4 L750.2,304.7 L750.7,304.0 L751.2,303.4 L751.8,302.9 L752.3,302.5 L752.8,302.2 L753.3,301.8 L753.9,301.5 L754.4,301.2 L754.9,300.9 L755.4,300.6 L756.0,300.4 L756.5,300.1 L757.0,299.9 L757.6,299.7 L758.1,299.6 L758.6,299.4 L759.1,299.3 L759.7,299.3 L760.2,299.3 L760.7,299.3 L761.3,299.3 L761.8,299.4 L762.3,299.5 L762.8,299.6 L763.4,299.7 L763.9,299.9 L764.4,300.1 L765.0,300.2 L765.5,300.4 L766.0,300.6 L766.5,300.9 L767.1,301.1 L767.6,301.3 L768.1,301.6 L768.6,301.8 L769.2,302.1 L769.7,302.3 L770.2,302.6 L770.8,302.9 L771.3,303.2 L771.8,303.5 L772.3,303.9 L772.9,304.3 L773.4,304.7 L773.9,305.2 L774.5,305.6 L775.0,306.1 L775.5,306.7 L776.0,307.2 L776.6,307.9 L777.1,308.6 L777.6,309.3 L778.2,310.0 L778.7,310.8 L779.2,311.6 L779.7,312.4 L780.3,313.3 L780.8,314.2 L781.3,315.1 L781.8,316.1 L782.4,317.1 L782.9,318.1 L783.4,319.1 L784.0,320.1 L784.5,321.1 L785.0,322.1 L785.5,323.2 L786.1,324.2 L786.6,325.3 L787.1,326.4 L787.7,327.5 L788.2,328.5 L788.7,329.6 L789.2,330.7 L789.8,331.8 L790.3,332.9 L790.8,334.0 L791.4,335.2 L791.9,336.3 L792.4,337.5 L792.9,338.6 L793.5,339.8 L794.0,341.0 L794.5,342.2 L795.0,343.3 L795.6,344.5 L796.1,345.6 L796.6,346.7 L797.2,347.8 L797.7,348.8 L798.2,349.8 L798.7,350.8 L799.3,351.7 L799.8,352.7 L800.3,353.6 L800.9,354.5 L801.4,355.4 L801.9,356.3 L802.4,357.2 L803.0,358.0 L803.5,358.9 L804.0,359.7 L804.6,360.6 L805.1,361.4 L805.6,362.2 L806.1,363.0 L806.7,363.8 L807.2,364.6 L807.7,365.4 L808.2,366.2 L808.8,367.0 L809.3,367.7 L809.8,368.5 L810.4,369.2 L810.9,369.9 L811.4,370.6 L811.9,371.3 L812.5,372.0 L813.0,372.6 L813.5,373.2 L814.1,373.8 L814.6,374.4 L815.1,375.0 L815.6,375.6 L816.2,376.1 L816.7,376.6 L817.2,377.2 L817.8,377.7 L818.3,378.2 L818.8,378.7 L819.3,379.2 L819.9,379.7 L820.4,380.1 L820.9,380.6 L821.4,381.0 L822.0,381.5 L822.5,381.9 L823.0,382.3 L823.6,382.8 L824.1,383.2 L824.6,383.6 L825.1,384.0 L825.7,384.4 L826.2,384.8 L826.7,385.1 L827.3,385.5 L827.8,385.8 L828.3,386.1 L828.8,386.5 L829.4,386.8 L829.9,387.1 L830.4,387.4 L831.0,387.6 L831.5,387.9 L832.0,388.2 L832.5,388.5 L833.1,388.7 L833.6,389.0 L834.1,389.2 L834.6,389.4 L835.2,389.7 L835.7,389.9 L836.2,390.1 L836.8,390.3 L837.3,390.5 L837.8,390.7 L838.3,390.9 L838.9,391.1 L839.4,391.3 L839.9,391.5 L840.5,391.7 L841.0,391.8 L841.5,392.0 L842.0,392.2 L842.6,392.4 L843.1,392.5 L843.6,392.7 L844.2,392.8 L844.7,393.0 L845.2,393.1 L845.7,393.3 L846.3,393.4 L846.8,393.5 L847.3,393.6 L847.8,393.8 L848.4,393.9 L848.9,394.0 L849.4,394.1 L850.0,394.2 L850.5,394.3 L851.0,394.4 L851.5,394.5 L852.1,394.6 L852.6,394.7 L853.1,394.8 L853.7,394.9 L854.2,395.0 L854.7,395.0 L855.2,395.1 L855.8,395.2 L856.3,395.3 L856.8,395.3 L857.4,395.4 L857.9,395.5 L858.4,395.5 L858.9,395.6 L859.5,395.6 L860.0,395.7 L860.5,395.7 L861.0,395.8 L861.6,395.8 L862.1,395.9 L862.6,395.9 L863.2,396.0 L863.7,396.0 L864.2,396.1 L864.7,396.1 L865.3,396.2 L865.8,396.2 L866.3,396.3 L866.9,396.3 L867.4,396.4 L867.9,396.4 L868.4,396.5 L869.0,396.5 L869.5,396.6 L870.0,396.6 L870.6,396.6 L871.1,396.7 L871.6,396.7 L872.1,396.8 L872.7,396.8 L873.2,396.8 L873.7,396.9 L874.2,396.9 L874.8,396.9 L875.3,396.9 L875.8,397.0 L876.4,397.0 L876.9,397.0 L877.4,397.0 L877.9,397.1 L878.5,397.1 L879.0,397.1 L879.5,397.1 L880.1,397.1 L880.6,397.1 L881.1,397.1 L881.6,397.2 L882.2,397.2 L882.7,397.2" stroke="#0a0a0a" stroke-width="0.8" fill="none" stroke-linejoin="round"/>
<path d="M668.9,397.5h0M669.4,397.5h0M669.9,397.5h0M670.4,397.5h0M671.0,397.5h0M671.5,397.5h0M672.0,397.5h0M672.6,397.4h0M673.1,397.4h0M673.6,397.4h0M674.1,397.4h0M674.7,397.4h0M675.2,397.4h0M675.7,397.4h0M676.2,397.3h0M676.8,397.3h0M677.3,397.3h0M677.8,397.3h0M678.4,397.3h0M678.9,397.2h0M679.4,397.2h0M679.9,397.2h0M680.5,397.1h0M681.0,397.1h0M681.5,397.1h0M682.1,397.0h0M682.6,397.0h0M683.1,396.9h0M683.6,396.9h0M684.2,396.8h0M684.7,396.7h0M685.2,396.5h0M685.8,396.2h0M686.3,395.8h0M686.8,395.4h0M687.3,394.8h0M687.9,394.3h0M688.4,393.6h0M688.9,392.9h0M689.4,392.2h0M690.0,391.4h0M690.5,390.4h0M691.0,389.0h0M691.6,387.4h0M692.1,385.6h0M692.6,383.5h0M693.1,381.2h0M693.7,378.7h0M694.2,376.0h0M694.7,373.1h0M695.3,370.1h0M695.8,366.9h0M696.3,363.0h0M696.8,358.4h0M697.4,353.2h0M697.9,347.5h0M698.4,341.3h0M699.0,334.9h0M699.5,328.1h0M700.0,320.2h0M700.5,311.4h0M701.1,301.9h0M701.6,292.1h0M702.1,282.1h0M702.6,270.5h0M703.2,258.9h0M703.7,250.1h0M704.2,243.5h0M704.8,239.2h0M705.3,240.4h0M705.8,246.0h0M706.3,253.3h0M706.9,264.6h0M707.4,277.4h0M707.9,288.1h0M708.5,297.5h0M709.0,306.5h0M709.5,315.0h0M710.0,322.5h0M710.6,329.1h0M711.1,334.8h0M711.6,340.0h0M712.2,344.9h0M712.7,349.3h0M713.2,353.4h0M713.7,357.0h0M714.3,360.0h0M714.8,362.7h0M715.3,365.0h0M715.8,367.2h0M716.4,369.2h0M716.9,371.0h0M717.4,372.6h0M718.0,373.9h0M718.5,374.9h0M719.0,375.9h0M719.5,376.9h0M720.1,377.8h0M720.6,378.6h0M721.1,379.4h0M721.7,380.1h0M722.2,380.7h0M722.7,381.2h0M723.2,381.5h0M723.8,381.6h0M724.3,381.6h0M724.8,381.5h0M725.4,381.2h0M725.9,380.7h0M726.4,380.2h0M726.9,379.6h0M727.5,378.9h0M728.0,378.3h0M728.5,377.3h0M729.0,376.1h0M729.6,374.7h0M730.1,373.0h0M730.6,371.2h0M731.2,369.2h0M731.7,367.2h0M732.2,365.1h0M732.7,363.0h0M733.3,361.0h0M733.8,359.0h0M734.3,356.9h0M734.9,354.6h0M735.4,352.3h0M735.9,349.9h0M736.4,347.4h0M737.0,345.0h0M737.5,342.5h0M738.0,340.1h0M738.6,337.8h0M739.1,335.6h0M739.6,333.4h0M740.1,331.3h0M740.7,329.1h0M741.2,326.9h0M741.7,324.7h0M742.2,322.7h0M742.8,320.7h0M743.3,318.8h0M743.8,317.1h0M744.4,315.5h0M744.9,314.2h0M745.4,313.0h0M745.9,311.9h0M746.5,310.8h0M747.0,309.8h0M747.5,308.8h0M748.1,307.9h0M748.6,307.0h0M749.1,306.1h0M749.6,305.4h0M750.2,304.7h0M750.7,304.0h0M751.2,303.4h0M751.8,302.9h0M752.3,302.5h0M752.8,302.2h0M753.3,301.8h0M753.9,301.5h0M754.4,301.2h0M754.9,300.9h0M755.4,300.6h0M756.0,300.4h0M756.5,300.1h0M757.0,299.9h0M757.6,299.7h0M758.1,299.6h0M758.6,299.4h0M759.1,299.3h0M759.7,299.3h0M760.2,299.3h0M760.7,299.3h0M761.3,299.3h0M761.8,299.4h0M762.3,299.5h0M762.8,299.6h0M763.4,299.7h0M763.9,299.9h0M764.4,300.1h0M765.0,300.2h0M765.5,300.4h0M766.0,300.6h0M766.5,300.9h0M767.1,301.1h0M767.6,301.3h0M768.1,301.6h0M768.6,301.8h0M769.2,302.1h0M769.7,302.3h0M770.2,302.6h0M770.8,302.9h0M771.3,303.2h0M771.8,303.5h0M772.3,303.9h0M772.9,304.3h0M773.4,304.7h0M773.9,305.2h0M774.5,305.6h0M775.0,306.1h0M775.5,306.7h0M776.0,307.2h0M776.6,307.9h0M777.1,308.6h0M777.6,309.3h0M778.2,310.0h0M778.7,310.8h0M779.2,311.6h0M779.7,312.4h0M780.3,313.3h0M780.8,314.2h0M781.3,315.1h0M781.8,316.1h0M782.4,317.1h0M782.9,318.1h0M783.4,319.1h0M784.0,320.1h0M784.5,321.1h0M785.0,322.1h0M785.5,323.2h0M786.1,324.2h0M786.6,325.3h0M787.1,326.4h0M787.7,327.5h0M788.2,328.5h0M788.7,329.6h0M789.2,330.7h0M789.8,331.8h0M790.3,332.9h0M790.8,334.0h0M791.4,335.2h0M791.9,336.3h0M792.4,337.5h0M792.9,338.6h0M793.5,339.8h0M794.0,341.0h0M794.5,342.2h0M795.0,343.3h0M795.6,344.5h0M796.1,345.6h0M796.6,346.7h0M797.2,347.8h0M797.7,348.8h0M798.2,349.8h0M798.7,350.8h0M799.3,351.7h0M799.8,352.7h0M800.3,353.6h0M800.9,354.5h0M801.4,355.4h0M801.9,356.3h0M802.4,357.2h0M803.0,358.0h0M803.5,358.9h0M804.0,359.7h0M804.6,360.6h0M805.1,361.4h0M805.6,362.2h0M806.1,363.0h0M806.7,363.8h0M807.2,364.6h0M807.7,365.4h0M808.2,366.2h0M808.8,367.0h0M809.3,367.7h0M809.8,368.5h0M810.4,369.2h0M810.9,369.9h0M811.4,370.6h0M811.9,371.3h0M812.5,372.0h0M813.0,372.6h0M813.5,373.2h0M814.1,373.8h0M814.6,374.4h0M815.1,375.0h0M815.6,375.6h0M816.2,376.1h0M816.7,376.6h0M817.2,377.2h0M817.8,377.7h0M818.3,378.2h0M818.8,378.7h0M819.3,379.2h0M819.9,379.7h0M820.4,380.1h0M820.9,380.6h0M821.4,381.0h0M822.0,381.5h0M822.5,381.9h0M823.0,382.3h0M823.6,382.8h0M824.1,383.2h0M824.6,383.6h0M825.1,384.0h0M825.7,384.4h0M826.2,384.8h0M826.7,385.1h0M827.3,385.5h0M827.8,385.8h0M828.3,386.1h0M828.8,386.5h0M829.4,386.8h0M829.9,387.1h0M830.4,387.4h0M831.0,387.6h0M831.5,387.9h0M832.0,388.2h0M832.5,388.5h0M833.1,388.7h0M833.6,389.0h0M834.1,389.2h0M834.6,389.4h0M835.2,389.7h0M835.7,389.9h0M836.2,390.1h0M836.8,390.3h0M837.3,390.5h0M837.8,390.7h0M838.3,390.9h0M838.9,391.1h0M839.4,391.3h0M839.9,391.5h0M840.5,391.7h0M841.0,391.8h0M841.5,392.0h0M842.0,392.2h0M842.6,392.4h0M843.1,392.5h0M843.6,392.7h0M844.2,392.8h0M844.7,393.0h0M845.2,393.1h0M845.7,393.3h0M846.3,393.4h0M846.8,393.5h0M847.3,393.6h0M847.8,393.8h0M848.4,393.9h0M848.9,394.0h0M849.4,394.1h0M850.0,394.2h0M850.5,394.3h0M851.0,394.4h0M851.5,394.5h0M852.1,394.6h0M852.6,394.7h0M853.1,394.8h0M853.7,394.9h0M854.2,395.0h0M854.7,395.0h0M855.2,395.1h0M855.8,395.2h0M856.3,395.3h0M856.8,395.3h0M857.4,395.4h0M857.9,395.5h0M858.4,395.5h0M858.9,395.6h0M859.5,395.6h0M860.0,395.7h0M860.5,395.7h0M861.0,395.8h0M861.6,395.8h0M862.1,395.9h0M862.6,395.9h0M863.2,396.0h0M863.7,396.0h0M864.2,396.1h0M864.7,396.1h0M865.3,396.2h0M865.8,396.2h0M866.3,396.3h0M866.9,396.3h0M867.4,396.4h0M867.9,396.4h0M868.4,396.5h0M869.0,396.5h0M869.5,396.6h0M870.0,396.6h0M870.6,396.6h0M871.1,396.7h0M871.6,396.7h0M872.1,396.8h0M872.7,396.8h0M873.2,396.8h0M873.7,396.9h0M874.2,396.9h0M874.8,396.9h0M875.3,396.9h0M875.8,397.0h0M876.4,397.0h0M876.9,397.0h0M877.4,397.0h0M877.9,397.1h0M878.5,397.1h0M879.0,397.1h0M879.5,397.1h0M880.1,397.1h0M880.6,397.1h0M881.1,397.1h0M881.6,397.2h0M882.2,397.2h0M882.7,397.2h0" stroke="#0a0a0a" stroke-width="2.5" fill="none" stroke-linecap="round"/>
<path d="M668.9,397.5 L669.4,397.5 L669.9,397.5 L670.4,397.5 L671.0,397.5 L671.5,397.5 L672.0,397.5 L672.6,397.4 L673.1,397.4 L673.6,397.4 L674.1,397.4 L674.7,397.4 L675.2,397.4 L675.7,397.4 L676.2,397.3 L676.8,397.3 L677.3,397.3 L677.8,397.3 L678.4,397.3 L678.9,397.2 L679.4,397.2 L679.9,397.2 L680.5,397.1 L681.0,397.1 L681.5,397.1 L682.1,397.0 L682.6,397.0 L683.1,396.9 L683.6,396.9 L684.2,396.8 L684.7,396.7 L685.2,396.5 L685.8,396.2 L686.3,395.8 L686.8,395.4 L687.3,394.8 L687.9,394.3 L688.4,393.6 L688.9,392.9 L689.4,392.2 L690.0,391.4 L690.5,390.4 L691.0,389.0 L691.6,387.4 L692.1,385.6 L692.6,383.5 L693.1,381.2 L693.7,378.7 L694.2,376.0 L694.7,373.1 L695.3,370.1 L695.8,366.9 L696.3,363.0 L696.8,358.4 L697.4,353.2 L697.9,347.5 L698.4,341.3 L699.0,334.9 L699.5,328.1 L700.0,320.2 L700.5,311.4 L701.1,301.9 L701.6,292.1 L702.1,282.1 L702.6,270.5 L703.2,258.9 L703.7,250.1 L704.2,243.5 L704.8,239.2 L705.3,240.4 L705.8,246.0 L706.3,253.3 L706.9,264.6 L707.4,277.4 L707.9,288.1 L708.5,297.5 L709.0,306.5 L709.5,315.0 L710.0,322.5 L710.6,329.1 L711.1,334.8 L711.6,340.0 L712.2,344.9 L712.7,349.3 L713.2,353.4 L713.7,357.0 L714.3,360.0 L714.8,362.7 L715.3,365.0 L715.8,367.2 L716.4,369.2 L716.9,371.0 L717.4,372.6 L718.0,373.9 L718.5,374.9 L719.0,375.9 L719.5,376.9 L720.1,377.8 L720.6,378.6 L721.1,379.4 L721.7,380.1 L722.2,380.7 L722.7,381.2 L723.2,381.5 L723.8,381.6 L724.3,381.7 L724.8,381.5 L725.4,381.2 L725.9,380.7 L726.4,380.2 L726.9,379.6 L727.5,379.0 L728.0,378.3 L728.5,377.3 L729.0,375.9 L729.6,374.3 L730.1,372.5 L730.6,370.4 L731.2,368.2 L731.7,365.9 L732.2,363.6 L732.7,361.2 L733.3,358.9 L733.8,356.7 L734.3,354.3 L734.9,351.7 L735.4,349.1 L735.9,346.4 L736.4,343.6 L737.0,340.8 L737.5,338.0 L738.0,335.2 L738.6,332.5 L739.1,330.0 L739.6,327.5 L740.1,325.0 L740.7,322.4 L741.2,319.9 L741.7,317.4 L742.2,315.0 L742.8,312.6 L743.3,310.4 L743.8,308.2 L744.4,306.3 L744.9,304.5 L745.4,302.9 L745.9,301.3 L746.5,299.8 L747.0,298.3 L747.5,296.8 L748.1,295.4 L748.6,294.0 L749.1,292.7 L749.6,291.5 L750.2,290.4 L750.7,289.4 L751.2,288.5 L751.8,287.8 L752.3,287.1 L752.8,286.6 L753.3,286.1 L753.9,285.7 L754.4,285.3 L754.9,284.8 L755.4,284.4 L756.0,284.1 L756.5,283.7 L757.0,283.4 L757.6,283.2 L758.1,282.9 L758.6,282.7 L759.1,282.6 L759.7,282.5 L760.2,282.5 L760.7,282.5 L761.3,282.5 L761.8,282.6 L762.3,282.7 L762.8,282.8 L763.4,282.9 L763.9,283.0 L764.4,283.1 L765.0,283.3 L765.5,283.5 L766.0,283.6 L766.5,283.8 L767.1,284.0 L767.6,284.3 L768.1,284.5 L768.6,284.7 L769.2,285.0 L769.7,285.2 L770.2,285.5 L770.8,285.9 L771.3,286.4 L771.8,286.9 L772.3,287.5 L772.9,288.2 L773.4,288.8 L773.9,289.5 L774.5,290.2 L775.0,290.8 L775.5,291.4 L776.0,292.1 L776.6,292.8 L777.1,293.5 L777.6,294.2 L778.2,295.0 L778.7,295.8 L779.2,296.6 L779.7,297.4 L780.3,298.2 L780.8,299.1 L781.3,300.0 L781.8,300.9 L782.4,301.9 L782.9,302.9 L783.4,304.0 L784.0,305.1 L784.5,306.2 L785.0,307.3 L785.5,308.5 L786.1,309.7 L786.6,310.9 L787.1,312.2 L787.7,313.4 L788.2,314.6 L788.7,315.9 L789.2,317.1 L789.8,318.3 L790.3,319.5 L790.8,320.7 L791.4,321.9 L791.9,323.1 L792.4,324.3 L792.9,325.6 L793.5,326.8 L794.0,328.0 L794.5,329.2 L795.0,330.4 L795.6,331.6 L796.1,332.8 L796.6,334.0 L797.2,335.2 L797.7,336.3 L798.2,337.4 L798.7,338.5 L799.3,339.6 L799.8,340.7 L800.3,341.8 L800.9,342.8 L801.4,343.9 L801.9,344.9 L802.4,346.0 L803.0,347.0 L803.5,348.0 L804.0,349.0 L804.6,350.0 L805.1,351.0 L805.6,352.0 L806.1,353.0 L806.7,354.0 L807.2,354.9 L807.7,355.9 L808.2,356.9 L808.8,357.9 L809.3,358.8 L809.8,359.7 L810.4,360.7 L810.9,361.6 L811.4,362.4 L811.9,363.3 L812.5,364.1 L813.0,364.9 L813.5,365.7 L814.1,366.4 L814.6,367.2 L815.1,367.9 L815.6,368.6 L816.2,369.2 L816.7,369.9 L817.2,370.6 L817.8,371.2 L818.3,371.8 L818.8,372.5 L819.3,373.1 L819.9,373.7 L820.4,374.3 L820.9,374.9 L821.4,375.5 L822.0,376.1 L822.5,376.6 L823.0,377.2 L823.6,377.8 L824.1,378.4 L824.6,378.9 L825.1,379.4 L825.7,380.0 L826.2,380.5 L826.7,381.0 L827.3,381.4 L827.8,381.9 L828.3,382.3 L828.8,382.7 L829.4,383.1 L829.9,383.5 L830.4,383.9 L831.0,384.3 L831.5,384.6 L832.0,385.0 L832.5,385.3 L833.1,385.6 L833.6,386.0 L834.1,386.3 L834.6,386.6 L835.2,386.9 L835.7,387.1 L836.2,387.4 L836.8,387.6 L837.3,387.9 L837.8,388.1 L838.3,388.4 L838.9,388.6 L839.4,388.9 L839.9,389.1 L840.5,389.3 L841.0,389.5 L841.5,389.7 L842.0,389.9 L842.6,390.1 L843.1,390.3 L843.6,390.5 L844.2,390.7 L844.7,390.9 L845.2,391.1 L845.7,391.2 L846.3,391.4 L846.8,391.6 L847.3,391.7 L847.8,391.9 L848.4,392.0 L848.9,392.2 L849.4,392.3 L850.0,392.5 L850.5,392.6 L851.0,392.8 L851.5,392.9 L852.1,393.1 L852.6,393.2 L853.1,393.3 L853.7,393.5 L854.2,393.6 L854.7,393.7 L855.2,393.8 L855.8,393.9 L856.3,394.0 L856.8,394.1 L857.4,394.2 L857.9,394.3 L858.4,394.4 L858.9,394.5 L859.5,394.5 L860.0,394.6 L860.5,394.7 L861.0,394.8 L861.6,394.9 L862.1,394.9 L862.6,395.0 L863.2,395.1 L863.7,395.2 L864.2,395.2 L864.7,395.3 L865.3,395.4 L865.8,395.4 L866.3,395.5 L866.9,395.6 L867.4,395.7 L867.9,395.7 L868.4,395.8 L869.0,395.9 L869.5,395.9 L870.0,396.0 L870.6,396.0 L871.1,396.1 L871.6,396.2 L872.1,396.2 L872.7,396.3 L873.2,396.3 L873.7,396.4 L874.2,396.4 L874.8,396.5 L875.3,396.5 L875.8,396.5 L876.4,396.6 L876.9,396.6 L877.4,396.6 L877.9,396.7 L878.5,396.7 L879.0,396.7 L879.5,396.8 L880.1,396.8 L880.6,396.8 L881.1,396.8 L881.6,396.8 L882.2,396.8 L882.7,396.8" stroke="#f01010" stroke-width="0.8" fill="none" stroke-linejoin="round"/>
<path d="M668.9,397.5h0M669.4,397.5h0M669.9,397.5h0M670.4,397.5h0M671.0,397.5h0M671.5,397.5h0M672.0,397.5h0M672.6,397.4h0M673.1,397.4h0M673.6,397.4h0M674.1,397.4h0M674.7,397.4h0M675.2,397.4h0M675.7,397.4h0M676.2,397.3h0M676.8,397.3h0M677.3,397.3h0M677.8,397.3h0M678.4,397.3h0M678.9,397.2h0M679.4,397.2h0M679.9,397.2h0M680.5,397.1h0M681.0,397.1h0M681.5,397.1h0M682.1,397.0h0M682.6,397.0h0M683.1,396.9h0M683.6,396.9h0M684.2,396.8h0M684.7,396.7h0M685.2,396.5h0M685.8,396.2h0M686.3,395.8h0M686.8,395.4h0M687.3,394.8h0M687.9,394.3h0M688.4,393.6h0M688.9,392.9h0M689.4,392.2h0M690.0,391.4h0M690.5,390.4h0M691.0,389.0h0M691.6,387.4h0M692.1,385.6h0M692.6,383.5h0M693.1,381.2h0M693.7,378.7h0M694.2,376.0h0M694.7,373.1h0M695.3,370.1h0M695.8,366.9h0M696.3,363.0h0M696.8,358.4h0M697.4,353.2h0M697.9,347.5h0M698.4,341.3h0M699.0,334.9h0M699.5,328.1h0M700.0,320.2h0M700.5,311.4h0M701.1,301.9h0M701.6,292.1h0M702.1,282.1h0M702.6,270.5h0M703.2,258.9h0M703.7,250.1h0M704.2,243.5h0M704.8,239.2h0M705.3,240.4h0M705.8,246.0h0M706.3,253.3h0M706.9,264.6h0M707.4,277.4h0M707.9,288.1h0M708.5,297.5h0M709.0,306.5h0M709.5,315.0h0M710.0,322.5h0M710.6,329.1h0M711.1,334.8h0M711.6,340.0h0M712.2,344.9h0M712.7,349.3h0M713.2,353.4h0M713.7,357.0h0M714.3,360.0h0M714.8,362.7h0M715.3,365.0h0M715.8,367.2h0M716.4,369.2h0M716.9,371.0h0M717.4,372.6h0M718.0,373.9h0M718.5,374.9h0M719.0,375.9h0M719.5,376.9h0M720.1,377.8h0M720.6,378.6h0M721.1,379.4h0M721.7,380.1h0M722.2,380.7h0M722.7,381.2h0M723.2,381.5h0M723.8,381.6h0M724.3,381.7h0M724.8,381.5h0M725.4,381.2h0M725.9,380.7h0M726.4,380.2h0M726.9,379.6h0M727.5,379.0h0M728.0,378.3h0M728.5,377.3h0M729.0,375.9h0M729.6,374.3h0M730.1,372.5h0M730.6,370.4h0M731.2,368.2h0M731.7,365.9h0M732.2,363.6h0M732.7,361.2h0M733.3,358.9h0M733.8,356.7h0M734.3,354.3h0M734.9,351.7h0M735.4,349.1h0M735.9,346.4h0M736.4,343.6h0M737.0,340.8h0M737.5,338.0h0M738.0,335.2h0M738.6,332.5h0M739.1,330.0h0M739.6,327.5h0M740.1,325.0h0M740.7,322.4h0M741.2,319.9h0M741.7,317.4h0M742.2,315.0h0M742.8,312.6h0M743.3,310.4h0M743.8,308.2h0M744.4,306.3h0M744.9,304.5h0M745.4,302.9h0M745.9,301.3h0M746.5,299.8h0M747.0,298.3h0M747.5,296.8h0M748.1,295.4h0M748.6,294.0h0M749.1,292.7h0M749.6,291.5h0M750.2,290.4h0M750.7,289.4h0M751.2,288.5h0M751.8,287.8h0M752.3,287.1h0M752.8,286.6h0M753.3,286.1h0M753.9,285.7h0M754.4,285.3h0M754.9,284.8h0M755.4,284.4h0M756.0,284.1h0M756.5,283.7h0M757.0,283.4h0M757.6,283.2h0M758.1,282.9h0M758.6,282.7h0M759.1,282.6h0M759.7,282.5h0M760.2,282.5h0M760.7,282.5h0M761.3,282.5h0M761.8,282.6h0M762.3,282.7h0M762.8,282.8h0M763.4,282.9h0M763.9,283.0h0M764.4,283.1h0M765.0,283.3h0M765.5,283.5h0M766.0,283.6h0M766.5,283.8h0M767.1,284.0h0M767.6,284.3h0M768.1,284.5h0M768.6,284.7h0M769.2,285.0h0M769.7,285.2h0M770.2,285.5h0M770.8,285.9h0M771.3,286.4h0M771.8,286.9h0M772.3,287.5h0M772.9,288.2h0M773.4,288.8h0M773.9,289.5h0M774.5,290.2h0M775.0,290.8h0M775.5,291.4h0M776.0,292.1h0M776.6,292.8h0M777.1,293.5h0M777.6,294.2h0M778.2,295.0h0M778.7,295.8h0M779.2,296.6h0M779.7,297.4h0M780.3,298.2h0M780.8,299.1h0M781.3,300.0h0M781.8,300.9h0M782.4,301.9h0M782.9,302.9h0M783.4,304.0h0M784.0,305.1h0M784.5,306.2h0M785.0,307.3h0M785.5,308.5h0M786.1,309.7h0M786.6,310.9h0M787.1,312.2h0M787.7,313.4h0M788.2,314.6h0M788.7,315.9h0M789.2,317.1h0M789.8,318.3h0M790.3,319.5h0M790.8,320.7h0M791.4,321.9h0M791.9,323.1h0M792.4,324.3h0M792.9,325.6h0M793.5,326.8h0M794.0,328.0h0M794.5,329.2h0M795.0,330.4h0M795.6,331.6h0M796.1,332.8h0M796.6,334.0h0M797.2,335.2h0M797.7,336.3h0M798.2,337.4h0M798.7,338.5h0M799.3,339.6h0M799.8,340.7h0M800.3,341.8h0M800.9,342.8h0M801.4,343.9h0M801.9,344.9h0M802.4,346.0h0M803.0,347.0h0M803.5,348.0h0M804.0,349.0h0M804.6,350.0h0M805.1,351.0h0M805.6,352.0h0M806.1,353.0h0M806.7,354.0h0M807.2,354.9h0M807.7,355.9h0M808.2,356.9h0M808.8,357.9h0M809.3,358.8h0M809.8,359.7h0M810.4,360.7h0M810.9,361.6h0M811.4,362.4h0M811.9,363.3h0M812.5,364.1h0M813.0,364.9h0M813.5,365.7h0M814.1,366.4h0M814.6,367.2h0M815.1,367.9h0M815.6,368.6h0M816.2,369.2h0M816.7,369.9h0M817.2,370.6h0M817.8,371.2h0M818.3,371.8h0M818.8,372.5h0M819.3,373.1h0M819.9,373.7h0M820.4,374.3h0M820.9,374.9h0M821.4,375.5h0M822.0,376.1h0M822.5,376.6h0M823.0,377.2h0M823.6,377.8h0M824.1,378.4h0M824.6,378.9h0M825.1,379.4h0M825.7,380.0h0M826.2,380.5h0M826.7,381.0h0M827.3,381.4h0M827.8,381.9h0M828.3,382.3h0M828.8,382.7h0M829.4,383.1h0M829.9,383.5h0M830.4,383.9h0M831.0,384.3h0M831.5,384.6h0M832.0,385.0h0M832.5,385.3h0M833.1,385.6h0M833.6,386.0h0M834.1,386.3h0M834.6,386.6h0M835.2,386.9h0M835.7,387.1h0M836.2,387.4h0M836.8,387.6h0M837.3,387.9h0M837.8,388.1h0M838.3,388.4h0M838.9,388.6h0M839.4,388.9h0M839.9,389.1h0M840.5,389.3h0M841.0,389.5h0M841.5,389.7h0M842.0,389.9h0M842.6,390.1h0M843.1,390.3h0M843.6,390.5h0M844.2,390.7h0M844.7,390.9h0M845.2,391.1h0M845.7,391.2h0M846.3,391.4h0M846.8,391.6h0M847.3,391.7h0M847.8,391.9h0M848.4,392.0h0M848.9,392.2h0M849.4,392.3h0M850.0,392.5h0M850.5,392.6h0M851.0,392.8h0M851.5,392.9h0M852.1,393.1h0M852.6,393.2h0M853.1,393.3h0M853.7,393.5h0M854.2,393.6h0M854.7,393.7h0M855.2,393.8h0M855.8,393.9h0M856.3,394.0h0M856.8,394.1h0M857.4,394.2h0M857.9,394.3h0M858.4,394.4h0M858.9,394.5h0M859.5,394.5h0M860.0,394.6h0M860.5,394.7h0M861.0,394.8h0M861.6,394.9h0M862.1,394.9h0M862.6,395.0h0M863.2,395.1h0M863.7,395.2h0M864.2,395.2h0M864.7,395.3h0M865.3,395.4h0M865.8,395.4h0M866.3,395.5h0M866.9,395.6h0M867.4,395.7h0M867.9,395.7h0M868.4,395.8h0M869.0,395.9h0M869.5,395.9h0M870.0,396.0h0M870.6,396.0h0M871.1,396.1h0M871.6,396.2h0M872.1,396.2h0M872.7,396.3h0M873.2,396.3h0M873.7,396.4h0M874.2,396.4h0M874.8,396.5h0M875.3,396.5h0M875.8,396.5h0M876.4,396.6h0M876.9,396.6h0M877.4,396.6h0M877.9,396.7h0M878.5,396.7h0M879.0,396.7h0M879.5,396.8h0M880.1,396.8h0M880.6,396.8h0M881.1,396.8h0M881.6,396.8h0M882.2,396.8h0M882.7,396.8h0" stroke="#f01010" stroke-width="2.5" fill="none" stroke-linecap="round"/>
<path d="M668.9,398.0 L669.4,398.0 L669.9,398.0 L670.4,398.0 L671.0,398.0 L671.5,398.0 L672.0,398.0 L672.6,398.0 L673.1,398.0 L673.6,398.0 L674.1,398.0 L674.7,398.0 L675.2,398.0 L675.7,398.0 L676.2,398.0 L676.8,398.0 L677.3,398.0 L677.8,398.0 L678.4,398.0 L678.9,398.0 L679.4,398.0 L679.9,398.0 L680.5,398.0 L681.0,398.0 L681.5,398.0 L682.1,398.0 L682.6,398.0 L683.1,398.0 L683.6,398.0 L684.2,398.0 L684.7,398.0 L685.2,398.0 L685.8,398.0 L686.3,398.0 L686.8,398.0 L687.3,398.0 L687.9,398.0 L688.4,398.0 L688.9,398.0 L689.4,398.0 L690.0,398.0 L690.5,398.0 L691.0,398.0 L691.6,398.0 L692.1,398.0 L692.6,398.0 L693.1,398.0 L693.7,398.0 L694.2,398.0 L694.7,398.0 L695.3,398.0 L695.8,398.0 L696.3,398.0 L696.8,398.0 L697.4,398.0 L697.9,398.0 L698.4,398.0 L699.0,398.0 L699.5,398.0 L700.0,398.0 L700.5,398.0 L701.1,398.0 L701.6,398.0 L702.1,398.0 L702.6,398.0 L703.2,398.0 L703.7,398.0 L704.2,398.0 L704.8,398.0 L705.3,398.0 L705.8,398.0 L706.3,398.0 L706.9,398.0 L707.4,398.0 L707.9,398.0 L708.5,398.0 L709.0,398.0 L709.5,398.0 L710.0,398.0 L710.6,398.0 L711.1,398.0 L711.6,398.0 L712.2,398.0 L712.7,398.0 L713.2,398.0 L713.7,398.0 L714.3,398.0 L714.8,398.0 L715.3,398.0 L715.8,398.0 L716.4,398.0 L716.9,398.0 L717.4,398.0 L718.0,398.0 L718.5,398.0 L719.0,398.0 L719.5,398.0 L720.1,398.0 L720.6,398.0 L721.1,398.0 L721.7,398.0 L722.2,398.0 L722.7,398.0 L723.2,398.0 L723.8,398.0 L724.3,398.0 L724.8,398.0 L725.4,398.0 L725.9,398.0 L726.4,398.0 L726.9,398.0 L727.5,398.0 L728.0,398.0 L728.5,398.0 L729.0,397.9 L729.6,397.9 L730.1,397.8 L730.6,397.7 L731.2,397.5 L731.7,397.4 L732.2,397.2 L732.7,397.0 L733.3,396.8 L733.8,396.6 L734.3,396.3 L734.9,395.9 L735.4,395.4 L735.9,394.9 L736.4,394.3 L737.0,393.7 L737.5,393.0 L738.0,392.3 L738.6,391.5 L739.1,390.8 L739.6,390.1 L740.1,389.4 L740.7,388.7 L741.2,388.1 L741.7,387.4 L742.2,386.8 L742.8,386.2 L743.3,385.6 L743.8,384.9 L744.4,384.3 L744.9,383.6 L745.4,383.0 L745.9,382.4 L746.5,381.7 L747.0,381.1 L747.5,380.4 L748.1,379.8 L748.6,379.1 L749.1,378.5 L749.6,377.8 L750.2,377.2 L750.7,376.6 L751.2,375.9 L751.8,375.3 L752.3,374.6 L752.8,374.0 L753.3,373.4 L753.9,372.7 L754.4,372.1 L754.9,371.4 L755.4,370.8 L756.0,370.2 L756.5,369.5 L757.0,368.9 L757.6,368.2 L758.1,367.6 L758.6,367.0 L759.1,366.3 L759.7,365.7 L760.2,365.1 L760.7,364.4 L761.3,363.8 L761.8,363.1 L762.3,362.4 L762.8,361.7 L763.4,361.1 L763.9,360.4 L764.4,359.7 L765.0,359.0 L765.5,358.3 L766.0,357.7 L766.5,357.1 L767.1,356.4 L767.6,355.8 L768.1,355.3 L768.6,354.7 L769.2,354.2 L769.7,353.7 L770.2,353.3 L770.8,352.9 L771.3,352.5 L771.8,352.1 L772.3,351.8 L772.9,351.4 L773.4,351.1 L773.9,350.7 L774.5,350.3 L775.0,349.9 L775.5,349.4 L776.0,348.9 L776.6,348.4 L777.1,347.9 L777.6,347.4 L778.2,346.9 L778.7,346.4 L779.2,346.1 L779.7,345.7 L780.3,345.4 L780.8,345.0 L781.3,344.7 L781.8,344.4 L782.4,344.1 L782.9,343.8 L783.4,343.7 L784.0,343.5 L784.5,343.5 L785.0,343.5 L785.5,343.6 L786.1,343.7 L786.6,343.9 L787.1,344.0 L787.7,344.2 L788.2,344.4 L788.7,344.6 L789.2,344.9 L789.8,345.1 L790.3,345.4 L790.8,345.8 L791.4,346.3 L791.9,346.8 L792.4,347.2 L792.9,347.6 L793.5,347.9 L794.0,348.0 L794.5,347.9 L795.0,347.8 L795.6,347.6 L796.1,347.3 L796.6,347.0 L797.2,346.7 L797.7,346.2 L798.2,345.4 L798.7,344.5 L799.3,343.4 L799.8,342.2 L800.3,340.9 L800.9,339.3 L801.4,337.6 L801.9,335.6 L802.4,333.5 L803.0,331.2 L803.5,328.9 L804.0,326.4 L804.6,323.9 L805.1,321.4 L805.6,318.9 L806.1,316.2 L806.7,313.3 L807.2,310.3 L807.7,307.1 L808.2,303.8 L808.8,300.5 L809.3,297.1 L809.8,293.7 L810.4,290.4 L810.9,287.1 L811.4,283.9 L811.9,280.8 L812.5,277.6 L813.0,274.4 L813.5,271.2 L814.1,268.1 L814.6,264.9 L815.1,261.7 L815.6,258.4 L816.2,254.9 L816.7,251.4 L817.2,248.3 L817.8,245.6 L818.3,243.5 L818.8,241.4 L819.3,239.8 L819.9,238.9 L820.4,239.3 L820.9,240.6 L821.4,242.5 L822.0,244.5 L822.5,246.8 L823.0,249.6 L823.6,252.8 L824.1,256.0 L824.6,259.1 L825.1,262.2 L825.7,265.3 L826.2,268.5 L826.7,271.6 L827.3,274.8 L827.8,278.0 L828.3,281.2 L828.8,284.4 L829.4,287.6 L829.9,290.8 L830.4,294.0 L831.0,297.2 L831.5,300.4 L832.0,303.7 L832.5,307.0 L833.1,310.3 L833.6,313.5 L834.1,316.7 L834.6,319.7 L835.2,322.8 L835.7,325.7 L836.2,328.4 L836.8,331.2 L837.3,333.9 L837.8,336.6 L838.3,339.2 L838.9,341.8 L839.4,344.2 L839.9,346.6 L840.5,348.9 L841.0,351.1 L841.5,353.1 L842.0,355.1 L842.6,357.0 L843.1,358.8 L843.6,360.6 L844.2,362.3 L844.7,363.9 L845.2,365.5 L845.7,367.0 L846.3,368.3 L846.8,369.6 L847.3,370.8 L847.8,371.9 L848.4,373.0 L848.9,374.0 L849.4,374.9 L850.0,375.8 L850.5,376.7 L851.0,377.5 L851.5,378.3 L852.1,379.0 L852.6,379.7 L853.1,380.4 L853.7,381.1 L854.2,381.7 L854.7,382.3 L855.2,383.0 L855.8,383.6 L856.3,384.1 L856.8,384.7 L857.4,385.2 L857.9,385.8 L858.4,386.2 L858.9,386.7 L859.5,387.1 L860.0,387.5 L860.5,387.9 L861.0,388.3 L861.6,388.6 L862.1,388.9 L862.6,389.2 L863.2,389.5 L863.7,389.8 L864.2,390.1 L864.7,390.3 L865.3,390.6 L865.8,390.8 L866.3,391.1 L866.9,391.3 L867.4,391.5 L867.9,391.7 L868.4,391.9 L869.0,392.1 L869.5,392.3 L870.0,392.5 L870.6,392.6 L871.1,392.8 L871.6,393.0 L872.1,393.1 L872.7,393.3 L873.2,393.5 L873.7,393.6 L874.2,393.8 L874.8,393.9 L875.3,394.1 L875.8,394.2 L876.4,394.3 L876.9,394.5 L877.4,394.6 L877.9,394.7 L878.5,394.8 L879.0,394.9 L879.5,395.0 L880.1,395.1 L880.6,395.2 L881.1,395.3 L881.6,395.4 L882.2,395.5 L882.7,395.5" stroke="#1818f0" stroke-width="0.8" fill="none" stroke-linejoin="round"/>
<path d="M668.9,398.0h0M669.4,398.0h0M669.9,398.0h0M670.4,398.0h0M671.0,398.0h0M671.5,398.0h0M672.0,398.0h0M672.6,398.0h0M673.1,398.0h0M673.6,398.0h0M674.1,398.0h0M674.7,398.0h0M675.2,398.0h0M675.7,398.0h0M676.2,398.0h0M676.8,398.0h0M677.3,398.0h0M677.8,398.0h0M678.4,398.0h0M678.9,398.0h0M679.4,398.0h0M679.9,398.0h0M680.5,398.0h0M681.0,398.0h0M681.5,398.0h0M682.1,398.0h0M682.6,398.0h0M683.1,398.0h0M683.6,398.0h0M684.2,398.0h0M684.7,398.0h0M685.2,398.0h0M685.8,398.0h0M686.3,398.0h0M686.8,398.0h0M687.3,398.0h0M687.9,398.0h0M688.4,398.0h0M688.9,398.0h0M689.4,398.0h0M690.0,398.0h0M690.5,398.0h0M691.0,398.0h0M691.6,398.0h0M692.1,398.0h0M692.6,398.0h0M693.1,398.0h0M693.7,398.0h0M694.2,398.0h0M694.7,398.0h0M695.3,398.0h0M695.8,398.0h0M696.3,398.0h0M696.8,398.0h0M697.4,398.0h0M697.9,398.0h0M698.4,398.0h0M699.0,398.0h0M699.5,398.0h0M700.0,398.0h0M700.5,398.0h0M701.1,398.0h0M701.6,398.0h0M702.1,398.0h0M702.6,398.0h0M703.2,398.0h0M703.7,398.0h0M704.2,398.0h0M704.8,398.0h0M705.3,398.0h0M705.8,398.0h0M706.3,398.0h0M706.9,398.0h0M707.4,398.0h0M707.9,398.0h0M708.5,398.0h0M709.0,398.0h0M709.5,398.0h0M710.0,398.0h0M710.6,398.0h0M711.1,398.0h0M711.6,398.0h0M712.2,398.0h0M712.7,398.0h0M713.2,398.0h0M713.7,398.0h0M714.3,398.0h0M714.8,398.0h0M715.3,398.0h0M715.8,398.0h0M716.4,398.0h0M716.9,398.0h0M717.4,398.0h0M718.0,398.0h0M718.5,398.0h0M719.0,398.0h0M719.5,398.0h0M720.1,398.0h0M720.6,398.0h0M721.1,398.0h0M721.7,398.0h0M722.2,398.0h0M722.7,398.0h0M723.2,398.0h0M723.8,398.0h0M724.3,398.0h0M724.8,398.0h0M725.4,398.0h0M725.9,398.0h0M726.4,398.0h0M726.9,398.0h0M727.5,398.0h0M728.0,398.0h0M728.5,398.0h0M729.0,397.9h0M729.6,397.9h0M730.1,397.8h0M730.6,397.7h0M731.2,397.5h0M731.7,397.4h0M732.2,397.2h0M732.7,397.0h0M733.3,396.8h0M733.8,396.6h0M734.3,396.3h0M734.9,395.9h0M735.4,395.4h0M735.9,394.9h0M736.4,394.3h0M737.0,393.7h0M737.5,393.0h0M738.0,392.3h0M738.6,391.5h0M739.1,390.8h0M739.6,390.1h0M740.1,389.4h0M740.7,388.7h0M741.2,388.1h0M741.7,387.4h0M742.2,386.8h0M742.8,386.2h0M743.3,385.6h0M743.8,384.9h0M744.4,384.3h0M744.9,383.6h0M745.4,383.0h0M745.9,382.4h0M746.5,381.7h0M747.0,381.1h0M747.5,380.4h0M748.1,379.8h0M748.6,379.1h0M749.1,378.5h0M749.6,377.8h0M750.2,377.2h0M750.7,376.6h0M751.2,375.9h0M751.8,375.3h0M752.3,374.6h0M752.8,374.0h0M753.3,373.4h0M753.9,372.7h0M754.4,372.1h0M754.9,371.4h0M755.4,370.8h0M756.0,370.2h0M756.5,369.5h0M757.0,368.9h0M757.6,368.2h0M758.1,367.6h0M758.6,367.0h0M759.1,366.3h0M759.7,365.7h0M760.2,365.1h0M760.7,364.4h0M761.3,363.8h0M761.8,363.1h0M762.3,362.4h0M762.8,361.7h0M763.4,361.1h0M763.9,360.4h0M764.4,359.7h0M765.0,359.0h0M765.5,358.3h0M766.0,357.7h0M766.5,357.1h0M767.1,356.4h0M767.6,355.8h0M768.1,355.3h0M768.6,354.7h0M769.2,354.2h0M769.7,353.7h0M770.2,353.3h0M770.8,352.9h0M771.3,352.5h0M771.8,352.1h0M772.3,351.8h0M772.9,351.4h0M773.4,351.1h0M773.9,350.7h0M774.5,350.3h0M775.0,349.9h0M775.5,349.4h0M776.0,348.9h0M776.6,348.4h0M777.1,347.9h0M777.6,347.4h0M778.2,346.9h0M778.7,346.4h0M779.2,346.1h0M779.7,345.7h0M780.3,345.4h0M780.8,345.0h0M781.3,344.7h0M781.8,344.4h0M782.4,344.1h0M782.9,343.8h0M783.4,343.7h0M784.0,343.5h0M784.5,343.5h0M785.0,343.5h0M785.5,343.6h0M786.1,343.7h0M786.6,343.9h0M787.1,344.0h0M787.7,344.2h0M788.2,344.4h0M788.7,344.6h0M789.2,344.9h0M789.8,345.1h0M790.3,345.4h0M790.8,345.8h0M791.4,346.3h0M791.9,346.8h0M792.4,347.2h0M792.9,347.6h0M793.5,347.9h0M794.0,348.0h0M794.5,347.9h0M795.0,347.8h0M795.6,347.6h0M796.1,347.3h0M796.6,347.0h0M797.2,346.7h0M797.7,346.2h0M798.2,345.4h0M798.7,344.5h0M799.3,343.4h0M799.8,342.2h0M800.3,340.9h0M800.9,339.3h0M801.4,337.6h0M801.9,335.6h0M802.4,333.5h0M803.0,331.2h0M803.5,328.9h0M804.0,326.4h0M804.6,323.9h0M805.1,321.4h0M805.6,318.9h0M806.1,316.2h0M806.7,313.3h0M807.2,310.3h0M807.7,307.1h0M808.2,303.8h0M808.8,300.5h0M809.3,297.1h0M809.8,293.7h0M810.4,290.4h0M810.9,287.1h0M811.4,283.9h0M811.9,280.8h0M812.5,277.6h0M813.0,274.4h0M813.5,271.2h0M814.1,268.1h0M814.6,264.9h0M815.1,261.7h0M815.6,258.4h0M816.2,254.9h0M816.7,251.4h0M817.2,248.3h0M817.8,245.6h0M818.3,243.5h0M818.8,241.4h0M819.3,239.8h0M819.9,238.9h0M820.4,239.3h0M820.9,240.6h0M821.4,242.5h0M822.0,244.5h0M822.5,246.8h0M823.0,249.6h0M823.6,252.8h0M824.1,256.0h0M824.6,259.1h0M825.1,262.2h0M825.7,265.3h0M826.2,268.5h0M826.7,271.6h0M827.3,274.8h0M827.8,278.0h0M828.3,281.2h0M828.8,284.4h0M829.4,287.6h0M829.9,290.8h0M830.4,294.0h0M831.0,297.2h0M831.5,300.4h0M832.0,303.7h0M832.5,307.0h0M833.1,310.3h0M833.6,313.5h0M834.1,316.7h0M834.6,319.7h0M835.2,322.8h0M835.7,325.7h0M836.2,328.4h0M836.8,331.2h0M837.3,333.9h0M837.8,336.6h0M838.3,339.2h0M838.9,341.8h0M839.4,344.2h0M839.9,346.6h0M840.5,348.9h0M841.0,351.1h0M841.5,353.1h0M842.0,355.1h0M842.6,357.0h0M843.1,358.8h0M843.6,360.6h0M844.2,362.3h0M844.7,363.9h0M845.2,365.5h0M845.7,367.0h0M846.3,368.3h0M846.8,369.6h0M847.3,370.8h0M847.8,371.9h0M848.4,373.0h0M848.9,374.0h0M849.4,374.9h0M850.0,375.8h0M850.5,376.7h0M851.0,377.5h0M851.5,378.3h0M852.1,379.0h0M852.6,379.7h0M853.1,380.4h0M853.7,381.1h0M854.2,381.7h0M854.7,382.3h0M855.2,383.0h0M855.8,383.6h0M856.3,384.1h0M856.8,384.7h0M857.4,385.2h0M857.9,385.8h0M858.4,386.2h0M858.9,386.7h0M859.5,387.1h0M860.0,387.5h0M860.5,387.9h0M861.0,388.3h0M861.6,388.6h0M862.1,388.9h0M862.6,389.2h0M863.2,389.5h0M863.7,389.8h0M864.2,390.1h0M864.7,390.3h0M865.3,390.6h0M865.8,390.8h0M866.3,391.1h0M866.9,391.3h0M867.4,391.5h0M867.9,391.7h0M868.4,391.9h0M869.0,392.1h0M869.5,392.3h0M870.0,392.5h0M870.6,392.6h0M871.1,392.8h0M871.6,393.0h0M872.1,393.1h0M872.7,393.3h0M873.2,393.5h0M873.7,393.6h0M874.2,393.8h0M874.8,393.9h0M875.3,394.1h0M875.8,394.2h0M876.4,394.3h0M876.9,394.5h0M877.4,394.6h0M877.9,394.7h0M878.5,394.8h0M879.0,394.9h0M879.5,395.0h0M880.1,395.1h0M880.6,395.2h0M881.1,395.3h0M881.6,395.4h0M882.2,395.5h0M882.7,395.5h0" stroke="#1818f0" stroke-width="2.7" fill="none" stroke-linecap="round"/>
</g>
<rect x="710.5" y="234.4" width="98.1" height="38" fill="#fff" stroke="#444" stroke-width="0.9"/>
<path d="M712.4,241.4h22" stroke="#0a0a0a" stroke-width="0.9"/>
<circle cx="723.3" cy="241.4" r="1.2" fill="#0a0a0a"/>
<text x="737.3" y="244.6" font-size="9.3" textLength="37" lengthAdjust="spacingAndGlyphs" fill="#111" stroke="#111" stroke-width="0.15">pc-LEDs</text>
<path d="M712.4,254.15h22" stroke="#f01010" stroke-width="0.9"/>
<circle cx="723.3" cy="254.15" r="1.2" fill="#f01010"/>
<text x="737.3" y="257.4" font-size="9.3" textLength="47.7" lengthAdjust="spacingAndGlyphs" fill="#111" stroke="#111" stroke-width="0.15">PAA-LEDs</text>
<path d="M712.4,266.9h22" stroke="#1818f0" stroke-width="0.9"/>
<circle cx="723.3" cy="266.9" r="1.2" fill="#1818f0"/>
<text x="737.3" y="270.1" font-size="9.3" textLength="70" lengthAdjust="spacingAndGlyphs" fill="#111" stroke="#111" stroke-width="0.15">QDs-PAA-LEDs</text>
<text x="662.5" y="402.1" font-size="12.2" text-anchor="end" fill="#111"  stroke="#111" stroke-width="0.35">0.0</text>
<text x="662.5" y="370.16" font-size="12.2" text-anchor="end" fill="#111"  stroke="#111" stroke-width="0.35">0.2</text>
<text x="662.5" y="338.22" font-size="12.2" text-anchor="end" fill="#111"  stroke="#111" stroke-width="0.35">0.4</text>
<text x="662.5" y="306.28000000000003" font-size="12.2" text-anchor="end" fill="#111"  stroke="#111" stroke-width="0.35">0.6</text>
<text x="662.5" y="274.34000000000003" font-size="12.2" text-anchor="end" fill="#111"  stroke="#111" stroke-width="0.35">0.8</text>
<text x="662.5" y="242.40000000000003" font-size="12.2" text-anchor="end" fill="#111"  stroke="#111" stroke-width="0.35">1.0</text>
<text x="680.5" y="411.9" font-size="11.8" text-anchor="middle" fill="#111"  stroke="#111" stroke-width="0.35">400</text>
<text x="706.9" y="411.9" font-size="11.8" text-anchor="middle" fill="#111"  stroke="#111" stroke-width="0.35">450</text>
<text x="733.3" y="411.9" font-size="11.8" text-anchor="middle" fill="#111"  stroke="#111" stroke-width="0.35">500</text>
<text x="759.7" y="411.9" font-size="11.8" text-anchor="middle" fill="#111"  stroke="#111" stroke-width="0.35">550</text>
<text x="786.1" y="411.9" font-size="11.8" text-anchor="middle" fill="#111"  stroke="#111" stroke-width="0.35">600</text>
<text x="812.5" y="411.9" font-size="11.8" text-anchor="middle" fill="#111"  stroke="#111" stroke-width="0.35">650</text>
<text x="838.9" y="411.9" font-size="11.8" text-anchor="middle" fill="#111"  stroke="#111" stroke-width="0.35">700</text>
<text x="865.3" y="411.9" font-size="11.8" text-anchor="middle" fill="#111"  stroke="#111" stroke-width="0.35">750</text>
<text x="891.7" y="411.9" font-size="11.8" text-anchor="middle" fill="#111"  stroke="#111" stroke-width="0.35">800</text>
<text x="725.1" y="426.6" font-size="15.2" textLength="109.3" lengthAdjust="spacingAndGlyphs" fill="#111" stroke="#111" stroke-width="0.35">Wavelength (nm)</text>
<text font-size="17" textLength="140.8" lengthAdjust="spacingAndGlyphs" fill="#111" transform="translate(639,390.5) rotate(-90)" stroke="#111" stroke-width="0.35">EL Intensity (a.u.)</text>
<text x="630.7" y="425.2" font-size="22" textLength="21.3" lengthAdjust="spacingAndGlyphs" fill="#fb9a0e" stroke="#fb9a0e" stroke-width="0.35">(f)</text>
</svg></body></html>
